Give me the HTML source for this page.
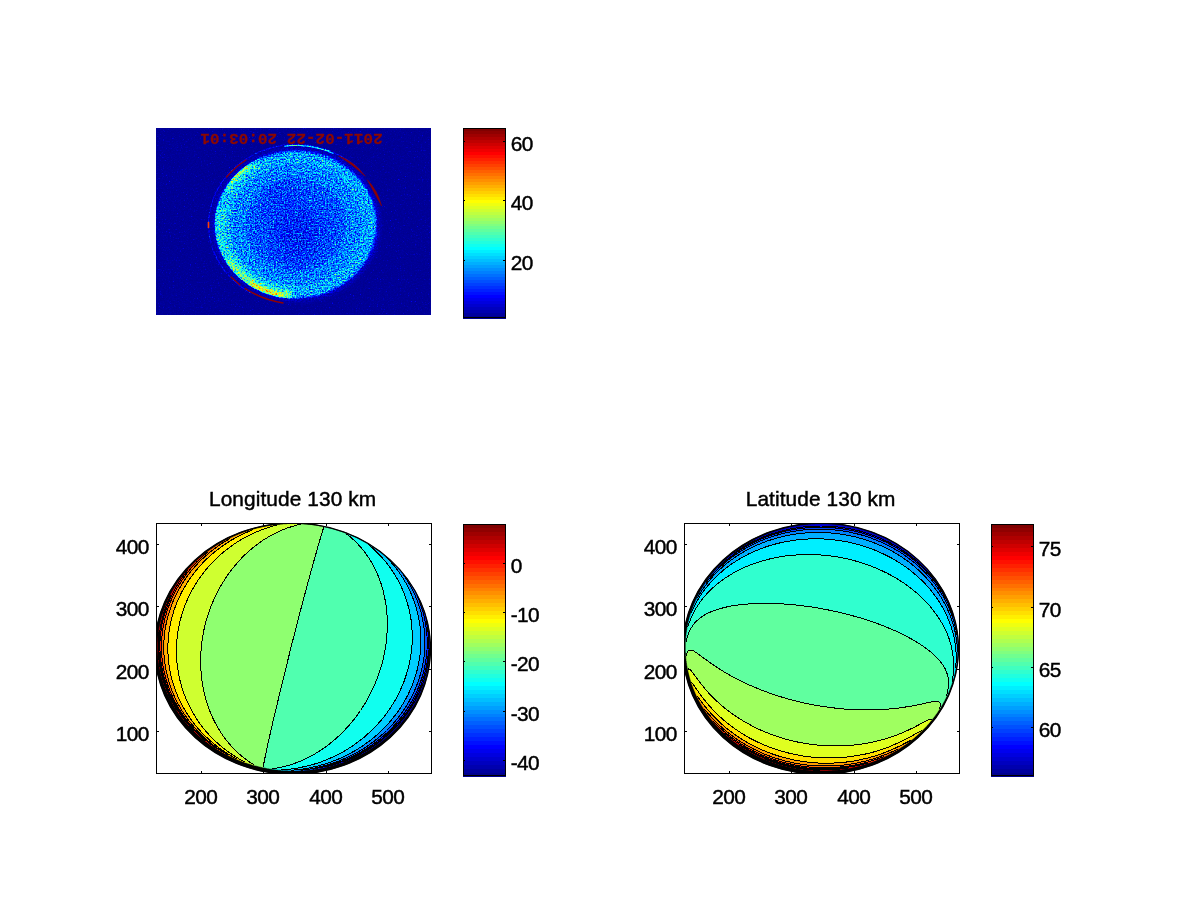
<!DOCTYPE html>
<html><head><meta charset="utf-8"><title>Figure</title>
<style>
html,body{margin:0;padding:0;background:#fff;}
body{width:1200px;height:901px;overflow:hidden;font-family:"Liberation Sans",sans-serif;}
svg{display:block;}
</style></head><body>
<svg width="1200" height="901" viewBox="0 0 1200 901">
<rect x="0" y="0" width="1200" height="901" fill="#fff"/>
<defs>
<filter id="jetnoise" filterUnits="userSpaceOnUse" x="156" y="128" width="275" height="187" color-interpolation-filters="sRGB">
 <feColorMatrix in="SourceGraphic" type="matrix" values="1 0 0 0 0  1 0 0 0 0  1 0 0 0 0  0 0 0 0 1" result="mean"/>
 <feColorMatrix in="SourceGraphic" type="matrix" values="0 1 0 0 0  0 1 0 0 0  0 1 0 0 0  0 0 0 0 1" result="amp"/>
 <feTurbulence type="fractalNoise" baseFrequency="0.63 0.66" numOctaves="2" seed="11" result="t1"/>
 <feColorMatrix in="t1" type="matrix" values="1 0 0 0 0  1 0 0 0 0  1 0 0 0 0  0 0 0 0 1" result="n1"/>
 <feComponentTransfer in="n1" result="n1s">
  <feFuncR type="table" tableValues="0 0 0 0.05 0.15 0.25 0.35 0.45 0.58 0.75 0.95"/><feFuncG type="table" tableValues="0 0 0 0.05 0.15 0.25 0.35 0.45 0.58 0.75 0.95"/><feFuncB type="table" tableValues="0 0 0 0.05 0.15 0.25 0.35 0.45 0.58 0.75 0.95"/>
 </feComponentTransfer>
 <feComposite in="amp" in2="n1s" operator="arithmetic" k1="1" k2="0" k3="0" k4="0" result="an"/>
 <feComposite in="mean" in2="an" operator="arithmetic" k1="0" k2="1" k3="1" k4="0" result="m"/>
 <feTurbulence type="fractalNoise" baseFrequency="0.71 0.68" numOctaves="2" seed="29" result="t2"/>
 <feColorMatrix in="t2" type="matrix" values="0 1 0 0 0  0 1 0 0 0  0 1 0 0 0  0 0 0 0 1" result="n2"/>
 <feComponentTransfer in="n2" result="n2s">
  <feFuncR type="table" tableValues="0 0 0 0 0 0 0.005 0.02 0.06 0.12 0.2"/><feFuncG type="table" tableValues="0 0 0 0 0 0 0.005 0.02 0.06 0.12 0.2"/><feFuncB type="table" tableValues="0 0 0 0 0 0 0.005 0.02 0.06 0.12 0.2"/>
 </feComponentTransfer>
 <feComposite in="m" in2="n2s" operator="arithmetic" k1="0" k2="1" k3="1" k4="0" result="v"/>
 <feComponentTransfer in="v">
  <feFuncR type="table" tableValues="0 0 0 0 0.5 1 1 1 0.5"/>
  <feFuncG type="table" tableValues="0 0 0.5 1 1 1 0.5 0 0"/>
  <feFuncB type="table" tableValues="0.56 1 1 1 0.5 0 0 0 0"/>
 </feComponentTransfer>
</filter>
<filter id="b1" x="-20%" y="-20%" width="140%" height="140%"><feGaussianBlur stdDeviation="1.0"/></filter>
<filter id="b2" x="-30%" y="-30%" width="160%" height="160%"><feGaussianBlur stdDeviation="2"/></filter>
<filter id="b3" x="-30%" y="-30%" width="160%" height="160%"><feGaussianBlur stdDeviation="3.5"/></filter>
<filter id="b8" x="-40%" y="-40%" width="180%" height="180%"><feGaussianBlur stdDeviation="9"/></filter>
<radialGradient id="diskg" cx="296.0" cy="224.5" r="81.0" gradientUnits="userSpaceOnUse" gradientTransform="translate(0 19.40) scale(1 0.9136)">
 <stop offset="0" stop-color="#0a9500"/><stop offset="0.45" stop-color="#0d9500"/><stop offset="0.75" stop-color="#15a600"/><stop offset="0.92" stop-color="#20ae00"/><stop offset="1" stop-color="#1cae00"/>
</radialGradient>
<clipPath id="imgclip"><rect x="156" y="128" width="275" height="187"/></clipPath>
<clipPath id="diskclip"><ellipse cx="296.0" cy="224.5" rx="81.3" ry="74.3"/></clipPath>
</defs>
<g clip-path="url(#imgclip)">
<g filter="url(#jetnoise)">
<rect x="156" y="128" width="275" height="187" fill="#000800"/>
<ellipse cx="296.0" cy="224.5" rx="84.0" ry="77.0" fill="#004000" filter="url(#b2)"/>
<path d="M252.3,293.8L241.7,287.3L232.4,279.4L224.3,270.4L217.8,260.4L212.9,249.7L209.8,238.4L208.5,226.8L209.1,215.2L211.5,203.8L215.7,192.8L221.5,182.5L229.0,173.1L237.8,164.7L247.9,157.7L259.0,152.0L270.9,147.9L283.3,145.3L296.0,144.5L308.7,145.3L321.1,147.9L333.0,152.0L344.1,157.7L354.2,164.7L363.0,173.1" fill="none" stroke="#006a00" stroke-width="1.1"/>
<ellipse cx="296.0" cy="224.5" rx="80.5" ry="73.5" fill="url(#diskg)" filter="url(#b1)"/>
<g clip-path="url(#diskclip)">
<ellipse cx="298" cy="236" rx="24" ry="28" fill="#009500" filter="url(#b8)" opacity="0.9"/>
<ellipse cx="280" cy="200" rx="14" ry="18" fill="#019500" filter="url(#b8)" opacity="0.6"/>
<path d="M293.4,293.3L285.0,292.6L276.8,291.1L268.9,288.7L261.2,285.5L254.0,281.6L247.3,277.0L241.2,271.8L235.8,265.9L231.2,259.6L227.3,252.8L224.3,245.6L222.2,238.2L221.0,230.6L220.7,223.0L221.3,215.4L222.9,207.9L225.4,200.5L228.7,193.5L232.9,186.9L237.9,180.7L243.6,175.1L249.9,170.1L256.8,165.7L264.2,162.1" fill="none" stroke="#1fbf00" stroke-width="16" filter="url(#b3)"/>
<path d="M293.3,294.8L287.6,294.4L281.9,293.6L276.2,292.4L270.7,290.9L265.4,289.0L260.2,286.7L255.2,284.1L250.4,281.1L245.9,277.9L241.7,274.3L237.7,270.4L234.1,266.3L230.9,262.0L228.0,257.4L225.5,252.7L223.4,247.8L221.7,242.7L220.4,237.6L219.5,232.4L219.1,227.2L219.1,221.9L219.5,216.6L220.4,211.4L221.7,206.3" fill="none" stroke="#2fbf00" stroke-width="9" filter="url(#b3)"/>
<path d="M289.3,294.9L286.2,294.6L283.1,294.2L280.1,293.7L277.1,293.0L274.1,292.3L271.1,291.4L268.2,290.5L265.4,289.4L262.5,288.2L259.8,286.9L257.1,285.6L254.4,284.1L251.9,282.5L249.4,280.9L246.9,279.1L244.6,277.3L242.3,275.4L240.1,273.4L238.0,271.3L236.0,269.1L234.1,266.9L232.3,264.6L230.6,262.3L229.0,259.8" fill="none" stroke="#50bf00" stroke-width="6" filter="url(#b2)"/>
<path d="M283.7,295.4L282.2,295.2L280.7,294.9L279.2,294.6L277.7,294.3L276.2,294.0L274.7,293.6L273.2,293.2L271.7,292.8L270.3,292.3L268.8,291.8L267.4,291.3L265.9,290.8L264.5,290.3L263.1,289.7L261.7,289.1L260.3,288.5L259.0,287.8L257.6,287.1L256.3,286.4L254.9,285.7L253.6,285.0L252.3,284.2L251.1,283.4L249.8,282.6" fill="none" stroke="#73d400" stroke-width="3" filter="url(#b1)"/>
<path d="M227.3,191.1L228.2,189.8L229.0,188.4L229.9,187.1L230.8,185.8L231.7,184.5L232.7,183.2L233.7,182.0L234.7,180.8L235.8,179.6L236.9,178.4L238.0,177.2L239.1,176.1L240.3,174.9L241.5,173.8L242.7,172.8L244.0,171.7L245.2,170.7L246.5,169.7L247.9,168.7L249.2,167.8L250.6,166.8L252.0,166.0L253.4,165.1L254.8,164.3" fill="none" stroke="#3bbf00" stroke-width="6" filter="url(#b2)"/>
<path d="M231.5,181.7L232.1,180.9L232.7,180.1L233.3,179.4L234.0,178.6L234.7,177.9L235.3,177.2L236.0,176.4L236.7,175.7L237.4,175.0L238.1,174.3L238.8,173.6L239.6,173.0L240.3,172.3L241.1,171.6L241.8,171.0L242.6,170.3L243.4,169.7L244.2,169.1L245.0,168.5L245.8,167.9L246.6,167.3L247.4,166.7L248.3,166.1L249.1,165.5" fill="none" stroke="#64bf00" stroke-width="2.5" filter="url(#b1)"/>
</g>
<path d="M284.1,146.3L286.2,146.0L288.3,145.8L290.4,145.7L292.5,145.6L294.6,145.5L296.7,145.5L298.9,145.5L301.0,145.6L303.1,145.8L305.2,146.0L307.3,146.2L309.4,146.5L311.5,146.8L313.5,147.2L315.6,147.6L317.6,148.1L319.7,148.6L321.7,149.2L323.7,149.8L325.7,150.4L327.7,151.1L329.6,151.9L331.6,152.7L333.5,153.5" fill="none" stroke="#3caa00" stroke-width="1.2"/>
</g>
<path d="M226.5,177 Q235,167 246,160" fill="none" stroke="#8f0000" stroke-width="1.2" stroke-linecap="round"/>
<path d="M338.5,155.8 Q354,161.3 365.3,176.2 Q351.8,164.0 338.5,155.8Z" fill="#8f0000" stroke="#8f0000" stroke-width="0.5" stroke-linejoin="round"/>
<path d="M367.3,179.8 Q377.6,190.2 381.6,206 Q374.2,192.6 367.3,179.8Z" fill="#8f0000" stroke="#8f0000" stroke-width="0.5" stroke-linejoin="round"/>
<path d="M231,277 L240,285" fill="none" stroke="#8f0000" stroke-width="1.2" stroke-linecap="round"/>
<path d="M245,288.5 Q262,299.5 283,303" fill="none" stroke="#8f0000" stroke-width="1.4" stroke-linecap="round"/>
<path d="M208.5,222.5 L208.5,227.5" fill="none" stroke="#ff4000" stroke-width="1.6" stroke-linecap="round"/>
<text transform="translate(291.5 139.4) rotate(180) scale(1 0.95)" text-anchor="middle" font-family="'Liberation Mono', monospace" font-weight="bold" font-size="16" fill="#8c0800" stroke="#8c0800" stroke-width="0.3" y="5.4">2011-02-22 20:03:01</text>
</g>
<g shape-rendering="crispEdges">
<rect x="463" y="315.03" width="43" height="3.47" fill="#00008f"/>
<rect x="463" y="312.06" width="43" height="3.47" fill="#00009f"/>
<rect x="463" y="309.09" width="43" height="3.47" fill="#0000af"/>
<rect x="463" y="306.12" width="43" height="3.47" fill="#0000bf"/>
<rect x="463" y="303.16" width="43" height="3.47" fill="#0000cf"/>
<rect x="463" y="300.19" width="43" height="3.47" fill="#0000df"/>
<rect x="463" y="297.22" width="43" height="3.47" fill="#0000ef"/>
<rect x="463" y="294.25" width="43" height="3.47" fill="#0000ff"/>
<rect x="463" y="291.28" width="43" height="3.47" fill="#0010ff"/>
<rect x="463" y="288.31" width="43" height="3.47" fill="#0020ff"/>
<rect x="463" y="285.34" width="43" height="3.47" fill="#0030ff"/>
<rect x="463" y="282.38" width="43" height="3.47" fill="#0040ff"/>
<rect x="463" y="279.41" width="43" height="3.47" fill="#0050ff"/>
<rect x="463" y="276.44" width="43" height="3.47" fill="#0060ff"/>
<rect x="463" y="273.47" width="43" height="3.47" fill="#0070ff"/>
<rect x="463" y="270.50" width="43" height="3.47" fill="#0080ff"/>
<rect x="463" y="267.53" width="43" height="3.47" fill="#008fff"/>
<rect x="463" y="264.56" width="43" height="3.47" fill="#009fff"/>
<rect x="463" y="261.59" width="43" height="3.47" fill="#00afff"/>
<rect x="463" y="258.62" width="43" height="3.47" fill="#00bfff"/>
<rect x="463" y="255.66" width="43" height="3.47" fill="#00cfff"/>
<rect x="463" y="252.69" width="43" height="3.47" fill="#00dfff"/>
<rect x="463" y="249.72" width="43" height="3.47" fill="#00efff"/>
<rect x="463" y="246.75" width="43" height="3.47" fill="#00ffff"/>
<rect x="463" y="243.78" width="43" height="3.47" fill="#10ffef"/>
<rect x="463" y="240.81" width="43" height="3.47" fill="#20ffdf"/>
<rect x="463" y="237.84" width="43" height="3.47" fill="#30ffcf"/>
<rect x="463" y="234.88" width="43" height="3.47" fill="#40ffbf"/>
<rect x="463" y="231.91" width="43" height="3.47" fill="#50ffaf"/>
<rect x="463" y="228.94" width="43" height="3.47" fill="#60ff9f"/>
<rect x="463" y="225.97" width="43" height="3.47" fill="#70ff8f"/>
<rect x="463" y="223.00" width="43" height="3.47" fill="#80ff80"/>
<rect x="463" y="220.03" width="43" height="3.47" fill="#8fff70"/>
<rect x="463" y="217.06" width="43" height="3.47" fill="#9fff60"/>
<rect x="463" y="214.09" width="43" height="3.47" fill="#afff50"/>
<rect x="463" y="211.12" width="43" height="3.47" fill="#bfff40"/>
<rect x="463" y="208.16" width="43" height="3.47" fill="#cfff30"/>
<rect x="463" y="205.19" width="43" height="3.47" fill="#dfff20"/>
<rect x="463" y="202.22" width="43" height="3.47" fill="#efff10"/>
<rect x="463" y="199.25" width="43" height="3.47" fill="#ffff00"/>
<rect x="463" y="196.28" width="43" height="3.47" fill="#ffef00"/>
<rect x="463" y="193.31" width="43" height="3.47" fill="#ffdf00"/>
<rect x="463" y="190.34" width="43" height="3.47" fill="#ffcf00"/>
<rect x="463" y="187.38" width="43" height="3.47" fill="#ffbf00"/>
<rect x="463" y="184.41" width="43" height="3.47" fill="#ffaf00"/>
<rect x="463" y="181.44" width="43" height="3.47" fill="#ff9f00"/>
<rect x="463" y="178.47" width="43" height="3.47" fill="#ff8f00"/>
<rect x="463" y="175.50" width="43" height="3.47" fill="#ff8000"/>
<rect x="463" y="172.53" width="43" height="3.47" fill="#ff7000"/>
<rect x="463" y="169.56" width="43" height="3.47" fill="#ff6000"/>
<rect x="463" y="166.59" width="43" height="3.47" fill="#ff5000"/>
<rect x="463" y="163.62" width="43" height="3.47" fill="#ff4000"/>
<rect x="463" y="160.66" width="43" height="3.47" fill="#ff3000"/>
<rect x="463" y="157.69" width="43" height="3.47" fill="#ff2000"/>
<rect x="463" y="154.72" width="43" height="3.47" fill="#ff1000"/>
<rect x="463" y="151.75" width="43" height="3.47" fill="#ff0000"/>
<rect x="463" y="148.78" width="43" height="3.47" fill="#ef0000"/>
<rect x="463" y="145.81" width="43" height="3.47" fill="#df0000"/>
<rect x="463" y="142.84" width="43" height="3.47" fill="#cf0000"/>
<rect x="463" y="139.88" width="43" height="3.47" fill="#bf0000"/>
<rect x="463" y="136.91" width="43" height="3.47" fill="#af0000"/>
<rect x="463" y="133.94" width="43" height="3.47" fill="#9f0000"/>
<rect x="463" y="130.97" width="43" height="3.47" fill="#8f0000"/>
<rect x="463" y="128.00" width="43" height="3.47" fill="#800000"/>
<rect x="463.5" y="128.5" width="42" height="189" fill="none" stroke="#000" stroke-width="1"/>
<rect x="463" y="141" width="2" height="1" fill="#000"/>
<rect x="503" y="141" width="3" height="1" fill="#000"/>
<rect x="463" y="200" width="2" height="1" fill="#000"/>
<rect x="503" y="200" width="3" height="1" fill="#000"/>
<rect x="463" y="260" width="2" height="1" fill="#000"/>
<rect x="503" y="260" width="3" height="1" fill="#000"/>
</g>
<text x="510.7" y="151.1" font-family="'Liberation Sans', sans-serif" font-size="20.83" stroke="#000" stroke-width="0.45" letter-spacing="-0.6">60</text>
<text x="510.7" y="210.1" font-family="'Liberation Sans', sans-serif" font-size="20.83" stroke="#000" stroke-width="0.45" letter-spacing="-0.6">40</text>
<text x="510.7" y="270.1" font-family="'Liberation Sans', sans-serif" font-size="20.83" stroke="#000" stroke-width="0.45" letter-spacing="-0.6">20</text>
<clipPath id="clip_lon"><rect x="157" y="524" width="274" height="249"/></clipPath>
<g clip-path="url(#clip_lon)">
<ellipse cx="292.65" cy="648.66" rx="138.16" ry="125.88" fill="#000"/>
<path d="M429.7,648.5L429.8,648.3L429.8,652.8L429.5,653.0L429.5,656.5L429.2,656.8L429.2,659.0L429.0,659.2L429.0,661.2L428.8,661.5L428.8,663.0L428.5,663.2L428.5,664.8L428.2,665.0L428.2,666.2L428.0,666.5L428.0,667.5L427.8,667.8L427.8,669.0L427.5,669.2L427.5,670.2L427.2,670.5L427.2,671.2L427.0,671.5L427.0,672.5L426.8,672.8L426.8,673.5L426.5,673.8L426.5,674.5L426.2,674.8L426.2,675.5L426.0,675.8L426.0,676.5L425.8,676.8L425.8,677.2L425.5,677.5L425.5,678.2L425.2,678.5L425.2,679.0L425.0,679.2L425.0,680.0L424.8,680.2L424.8,680.8L424.5,681.0L424.5,681.5L424.2,681.8L424.2,682.2L424.0,682.5L424.0,683.0L423.8,683.2L423.8,683.8L423.5,684.0L423.5,684.5L423.2,684.8L423.2,685.2L423.0,685.5L423.0,685.8L422.8,686.0L422.8,686.5L422.5,686.8L422.5,687.2L422.2,687.5L422.2,687.8L422.0,688.0L422.0,688.5L421.8,688.8L421.8,689.2L421.5,689.5L421.5,689.8L421.2,690.0L421.2,690.2L421.0,690.5L421.0,691.0L420.8,691.2L420.8,691.5L420.5,691.8L420.5,692.2L420.2,692.5L420.2,692.8L420.0,693.0L420.0,693.2L419.8,693.5L419.8,693.8L419.5,694.0L419.5,694.5L419.2,694.8L419.2,695.0L419.0,695.2L419.0,695.5L418.8,695.8L418.8,696.0L418.5,696.2L418.5,696.5L418.2,696.8L418.2,697.0L418.0,697.2L418.0,697.5L417.8,697.8L417.8,698.0L417.5,698.2L417.5,698.5L417.2,698.8L417.2,699.0L417.0,699.2L417.0,699.5L416.8,699.8L416.8,700.0L416.5,700.2L416.5,700.5L416.2,700.8L416.2,701.0L416.0,701.2L416.0,701.5L415.5,702.0L415.5,702.2L415.2,702.5L415.2,702.8L415.0,703.0L415.0,703.2L414.8,703.5L414.8,703.8L414.2,704.2L414.2,704.5L414.0,704.8L414.0,705.0L413.8,705.2L413.8,705.5L413.2,706.0L413.2,706.2L413.0,706.5L413.0,706.8L412.5,707.2L412.5,707.5L412.0,708.0L412.0,708.2L411.8,708.5L411.8,708.8L411.2,709.2L411.2,709.5L410.8,710.0L410.8,710.2L410.2,710.8L410.2,711.0L409.8,711.5L409.8,711.8L409.2,712.2L409.2,712.5L408.8,713.0L408.8,713.2L408.0,714.0L408.0,714.2L407.5,714.8L407.5,715.0L406.8,715.8L406.8,716.0L406.0,716.8L406.0,717.0L405.2,717.8L405.2,718.0L404.2,719.0L404.2,719.2L403.2,720.2L403.2,720.5L402.2,721.5L402.2,721.8L400.8,723.2L400.8,723.5L399.0,725.2L399.0,725.5L390.0,734.5L389.8,734.5L388.0,736.2L387.8,736.2L386.2,737.8L386.0,737.8L384.8,739.0L384.5,739.0L383.5,740.0L383.2,740.0L382.2,741.0L382.0,741.0L381.2,741.8L381.0,741.8L380.2,742.5L380.0,742.5L379.2,743.2L379.0,743.2L378.5,743.8L378.2,743.8L377.5,744.5L377.2,744.5L376.8,745.0L376.5,745.0L376.0,745.5L375.8,745.5L375.2,746.0L375.0,746.0L374.5,746.5L374.2,746.5L373.8,747.0L373.5,747.0L373.0,747.5L372.8,747.5L372.2,748.0L372.0,748.0L371.5,748.5L371.2,748.5L371.0,748.8L370.8,748.8L370.2,749.2L370.0,749.2L369.5,749.8L369.2,749.8L369.0,750.0L368.8,750.0L368.2,750.5L368.0,750.5L367.8,750.8L367.5,750.8L367.2,751.0L367.0,751.0L366.5,751.5L366.2,751.5L366.0,751.8L365.8,751.8L365.5,752.0L365.2,752.0L364.8,752.5L364.5,752.5L364.2,752.8L364.0,752.8L363.8,753.0L363.5,753.0L363.2,753.2L363.0,753.2L362.8,753.5L362.5,753.5L362.0,754.0L361.8,754.0L361.5,754.2L361.2,754.2L361.0,754.5L360.8,754.5L360.5,754.8L360.2,754.8L360.0,755.0L359.8,755.0L359.5,755.2L359.2,755.2L359.0,755.5L358.8,755.5L358.5,755.8L358.2,755.8L358.0,756.0L357.8,756.0L357.5,756.2L357.2,756.2L357.0,756.5L356.5,756.5L356.2,756.8L356.0,756.8L355.8,757.0L355.5,757.0L355.2,757.2L355.0,757.2L354.8,757.5L354.5,757.5L354.2,757.8L353.8,757.8L353.5,758.0L353.2,758.0L353.0,758.2L352.8,758.2L352.5,758.5L352.2,758.5L352.0,758.8L351.5,758.8L351.2,759.0L351.0,759.0L350.8,759.2L350.5,759.2L350.2,759.5L349.8,759.5L349.5,759.8L349.2,759.8L349.0,760.0L348.5,760.0L348.2,760.2L348.0,760.2L347.8,760.5L347.2,760.5L347.0,760.8L346.5,760.8L346.2,761.0L346.0,761.0L345.8,761.2L345.2,761.2L345.0,761.5L344.5,761.5L344.2,761.8L344.0,761.8L343.8,762.0L343.2,762.0L343.0,762.2L342.7,762.2L343.0,762.0L343.5,761.9L343.6,761.8L344.0,761.7L344.2,761.5L346.0,760.8L353.0,757.8L357.1,755.8L361.4,753.5L365.4,751.2L369.5,748.8L373.3,746.2L377.5,743.2L381.4,740.2L384.8,737.5L388.5,734.2L392.0,731.0L395.2,727.7L398.5,724.1L401.5,720.6L404.5,716.9L407.0,713.5L409.8,709.5L412.3,705.5L414.8,701.2L417.0,696.9L419.0,692.7L420.8,688.7L422.5,684.2L424.0,679.9L425.2,675.7L426.2,671.9L427.2,667.5L428.0,663.6L428.8,658.5L429.3,653.0L429.5,650.0L429.7,648.5Z" fill="#00008f" stroke="#00008f" stroke-width="0.5"/>
<path d="M426.2,619.5L426.2,619.3L426.2,619.8L426.5,620.0L426.5,620.8L426.8,621.0L426.8,621.8L427.0,622.0L427.0,623.0L427.2,623.2L427.2,624.0L427.5,624.2L427.5,625.2L427.8,625.5L427.8,626.8L428.0,627.0L428.0,628.0L428.2,628.2L428.2,629.5L428.5,629.8L428.5,631.2L428.8,631.5L428.8,633.0L429.0,633.2L429.0,635.2L429.2,635.5L429.2,637.8L429.5,638.0L429.5,641.5L429.8,641.8L429.8,648.3L429.5,650.0L429.3,653.2L428.5,660.4L427.5,666.3L426.2,671.9L424.5,678.3L422.8,683.5L420.5,689.3L418.0,694.9L415.2,700.3L412.2,705.5L408.8,711.0L405.0,716.2L401.2,720.9L397.2,725.5L393.0,730.0L388.2,734.5L383.3,738.8L378.5,742.5L373.3,746.2L367.9,749.8L362.3,753.0L356.1,756.2L350.2,759.0L344.8,761.4L344.2,761.5L344.0,761.7L343.0,762.0L342.8,762.2L342.5,762.2L342.2,762.5L341.8,762.5L341.5,762.8L341.0,762.8L340.8,763.0L340.2,763.0L340.0,763.2L339.5,763.2L339.2,763.5L338.8,763.5L338.5,763.8L338.0,763.8L337.8,764.0L337.0,764.0L336.8,764.2L336.2,764.2L336.0,764.5L335.5,764.5L335.2,764.8L334.5,764.8L334.2,765.0L333.8,765.0L333.5,765.2L332.8,765.2L332.5,765.5L331.8,765.5L331.5,765.8L330.8,765.8L330.5,766.0L329.8,766.0L329.5,766.2L328.8,766.2L328.5,766.5L327.8,766.5L327.5,766.8L326.8,766.8L326.5,767.0L326.2,767.0L326.4,766.8L327.0,766.7L327.3,766.5L328.0,766.4L333.4,764.8L340.0,762.5L345.2,760.5L351.0,758.0L356.7,755.2L362.3,752.2L367.7,749.0L373.0,745.5L378.2,741.8L382.9,738.0L387.5,734.0L391.9,729.8L396.2,725.2L400.2,720.6L404.0,715.9L407.5,711.0L410.8,706.0L414.0,700.4L416.8,695.0L419.2,689.5L421.2,684.5L423.2,678.7L425.0,672.5L426.2,667.1L427.2,661.6L428.0,655.9L428.5,649.5L428.6,643.8L428.5,637.9L428.1,632.0L427.5,627.5L426.4,620.5L426.2,620.2L426.2,619.5Z" fill="#0000cf" stroke="#0000cf" stroke-width="0.5"/>
<path d="M416.7,595.0L416.9,594.9L417.0,595.0L417.0,595.2L417.2,595.5L417.2,595.8L417.5,596.0L417.5,596.2L417.8,596.5L417.8,596.8L418.0,597.0L418.0,597.2L418.2,597.5L418.2,597.8L418.5,598.0L418.5,598.2L418.8,598.5L418.8,598.8L419.0,599.0L419.0,599.2L419.2,599.5L419.2,599.8L419.5,600.0L419.5,600.5L419.8,600.8L419.8,601.0L420.0,601.2L420.0,601.5L420.2,601.8L420.2,602.0L420.5,602.2L420.5,602.8L420.8,603.0L420.8,603.2L421.0,603.5L421.0,603.8L421.2,604.0L421.2,604.5L421.5,604.8L421.5,605.0L421.8,605.2L421.8,605.8L422.0,606.0L422.0,606.2L422.2,606.5L422.2,607.0L422.5,607.2L422.5,607.8L422.8,608.0L422.8,608.2L423.0,608.5L423.0,609.0L423.2,609.2L423.2,609.8L423.5,610.0L423.5,610.5L423.8,610.8L423.8,611.2L424.0,611.5L424.0,612.0L424.2,612.2L424.2,612.8L424.5,613.0L424.5,613.5L424.8,613.8L424.8,614.2L425.0,614.5L425.0,615.2L425.2,615.5L425.2,616.0L425.5,616.2L425.5,617.0L425.8,617.2L425.8,617.8L426.0,618.0L426.0,618.8L426.2,619.0L426.2,620.3L426.4,620.5L427.5,627.5L428.0,631.5L428.3,635.0L428.6,642.2L428.5,649.5L428.0,656.0L427.0,663.2L425.5,670.5L424.5,674.4L423.5,677.9L422.2,681.7L421.0,685.2L418.2,691.8L415.0,698.5L411.5,704.8L407.5,711.0L403.0,717.2L398.2,723.0L393.4,728.2L388.0,733.5L382.3,738.5L376.5,743.0L370.1,747.5L363.6,751.5L356.7,755.2L349.4,758.8L342.1,761.8L335.7,764.0L328.0,766.4L327.3,766.5L327.0,766.7L326.4,766.8L326.2,767.0L325.5,767.0L325.2,767.2L324.2,767.2L324.0,767.5L323.0,767.5L322.8,767.8L321.8,767.8L321.5,768.0L320.5,768.0L320.2,768.2L319.0,768.2L318.8,768.5L317.5,768.5L317.2,768.8L316.0,768.8L315.8,769.0L314.2,769.0L314.0,769.2L312.8,769.2L313.2,769.2L313.5,769.0L314.5,768.9L322.0,767.2L328.6,765.5L335.8,763.2L342.5,760.8L349.5,757.8L356.6,754.2L363.3,750.5L369.6,746.5L376.0,742.0L381.6,737.5L387.3,732.5L392.6,727.2L397.5,721.8L402.0,716.2L406.2,710.3L410.2,704.0L413.8,697.7L417.0,690.9L419.8,684.1L422.0,677.5L423.8,671.2L425.2,664.2L426.3,657.2L426.7,653.2L427.0,649.8L427.2,642.8L427.0,636.0L426.7,632.5L426.3,628.5L425.2,622.0L423.8,615.1L421.8,608.0L419.5,601.6L417.2,595.8L417.0,595.5L417.0,595.2L416.7,595.0Z" fill="#0010ff" stroke="#0010ff" stroke-width="0.5"/>
<path d="M403.5,574.5L403.5,574.3L403.5,574.5L404.5,575.5L404.5,575.8L405.2,576.5L405.2,576.8L406.0,577.5L406.0,577.8L406.8,578.5L406.8,578.8L407.5,579.5L407.5,579.8L408.2,580.5L408.2,580.8L408.8,581.2L408.8,581.5L409.2,582.0L409.2,582.2L409.8,582.8L409.8,583.0L410.2,583.5L410.2,583.8L410.8,584.2L410.8,584.5L411.2,585.0L411.2,585.2L411.8,585.8L411.8,586.0L412.0,586.2L412.0,586.5L412.5,587.0L412.5,587.2L413.0,587.8L413.0,588.0L413.2,588.2L413.2,588.5L413.8,589.0L413.8,589.2L414.0,589.5L414.0,589.8L414.2,590.0L414.2,590.2L414.8,590.8L414.8,591.0L415.0,591.2L415.0,591.5L415.2,591.8L415.2,592.0L415.8,592.5L415.8,592.8L416.0,593.0L416.0,593.2L416.2,593.5L416.2,593.8L416.5,594.0L416.5,594.2L416.8,594.5L416.8,594.8L416.9,594.9L416.7,595.0L417.0,595.2L417.0,595.5L417.2,595.8L419.0,600.3L421.0,605.8L422.2,609.7L423.5,614.1L424.5,618.3L425.5,623.4L426.2,628.5L426.8,633.5L427.0,637.5L427.2,641.8L427.1,645.8L427.0,650.0L426.7,654.0L426.2,658.2L425.5,662.8L424.8,666.8L423.7,671.2L422.8,674.9L421.5,679.1L420.2,682.7L418.8,686.7L417.2,690.3L415.5,694.1L413.5,698.1L411.5,701.8L409.5,705.2L407.2,708.8L404.8,712.5L402.5,715.5L399.8,719.1L397.0,722.4L394.0,725.8L390.9,729.0L387.8,732.0L384.5,735.0L381.3,737.8L377.9,740.5L374.3,743.2L370.8,745.8L367.4,748.0L363.7,750.2L359.9,752.5L355.7,754.8L351.7,756.8L347.9,758.5L343.8,760.2L339.3,762.0L335.0,763.5L330.3,765.0L325.0,766.5L319.8,767.8L314.5,768.9L313.5,769.0L313.2,769.2L312.2,769.2L312.0,769.5L310.0,769.5L309.8,769.8L307.5,769.8L307.2,770.0L304.5,770.0L304.2,770.2L301.2,770.2L311.0,768.7L314.9,768.0L319.4,767.0L323.4,766.0L327.8,764.8L335.4,762.2L339.4,760.8L343.6,759.0L351.2,755.5L355.0,753.5L359.1,751.2L362.8,749.0L366.3,746.8L370.0,744.2L373.7,741.5L377.2,738.8L380.2,736.2L383.3,733.5L386.5,730.5L389.5,727.5L392.2,724.6L395.0,721.5L397.8,718.1L400.2,714.9L402.8,711.4L405.0,708.1L407.2,704.5L409.2,701.1L411.2,697.4L413.0,693.9L414.8,690.1L416.2,686.5L417.8,682.6L419.0,679.0L420.2,674.9L421.2,671.2L422.2,666.9L423.0,663.2L423.7,659.0L424.2,655.0L424.5,651.2L424.8,647.2L424.9,643.0L424.8,639.0L424.7,635.0L424.3,630.8L423.9,626.8L423.2,622.7L422.5,618.8L420.8,611.5L419.5,607.2L418.2,603.5L416.8,599.4L415.2,595.8L413.8,592.5L412.0,588.9L408.5,582.5L406.0,578.5L403.5,574.8L403.5,574.5Z" fill="#0050ff" stroke="#0050ff" stroke-width="0.5"/>
<path d="M386.7,557.2L387.5,558.0L387.8,558.0L389.8,560.0L390.0,560.0L399.0,569.0L399.0,569.2L401.0,571.2L401.0,571.5L402.2,572.8L402.2,573.0L403.5,574.2L403.5,574.8L406.0,578.5L408.8,583.0L411.0,587.0L413.2,591.4L415.2,595.8L417.0,600.1L418.8,604.9L420.2,609.7L421.5,614.3L422.5,618.8L423.3,623.0L424.0,627.8L424.5,632.7L424.8,637.0L424.9,641.8L424.8,646.2L424.6,651.0L424.1,655.5L423.5,660.2L422.8,664.5L421.7,669.2L420.5,674.0L419.2,678.2L417.8,682.6L416.0,687.1L414.2,691.2L412.2,695.4L410.0,699.7L407.8,703.7L405.2,707.7L402.8,711.4L400.0,715.2L397.2,718.8L394.0,722.6L390.7,726.2L387.3,729.8L383.9,733.0L380.2,736.2L376.6,739.2L372.7,742.2L368.9,745.0L364.8,747.8L360.8,750.2L356.4,752.8L352.2,755.0L347.5,757.2L343.0,759.2L338.1,761.2L333.3,763.0L328.6,764.5L323.4,766.0L318.4,767.2L313.7,768.2L308.0,769.2L301.5,770.2L300.0,770.2L299.8,770.5L290.8,770.5L291.8,770.2L297.3,769.8L301.3,769.2L306.1,768.5L310.1,767.8L314.7,766.8L319.7,765.5L324.0,764.2L328.6,762.8L332.8,761.2L337.3,759.5L341.9,757.5L346.1,755.5L350.4,753.2L354.5,751.0L358.6,748.5L362.5,746.0L366.4,743.2L370.1,740.5L373.8,737.5L377.3,734.5L380.9,731.2L384.2,728.0L387.3,724.8L390.4,721.2L393.2,717.7L396.0,714.2L398.8,710.3L401.2,706.6L403.8,702.5L406.0,698.5L408.0,694.7L410.0,690.4L411.8,686.4L413.5,681.9L415.0,677.5L416.2,673.4L417.5,668.8L418.4,664.5L419.2,660.1L419.9,655.8L420.4,651.2L420.7,646.8L420.8,642.5L420.8,638.0L420.6,633.5L420.3,629.0L419.8,624.5L419.1,620.2L418.2,616.0L417.2,611.7L416.0,607.2L414.8,603.2L413.2,599.0L411.5,594.7L409.8,590.7L407.8,586.7L405.8,583.0L403.5,579.1L401.2,575.6L398.8,571.9L396.2,568.5L393.8,565.4L390.2,561.3L386.7,557.5L386.7,557.2Z" fill="#008fff" stroke="#008fff" stroke-width="0.5"/>
<path d="M367.5,543.7L367.8,543.8L368.0,544.0L368.2,544.0L368.8,544.5L369.0,544.5L369.2,544.8L369.5,544.8L370.0,545.2L370.2,545.2L370.5,545.5L370.8,545.5L371.2,546.0L371.5,546.0L372.0,546.5L372.2,546.5L372.8,547.0L373.0,547.0L373.2,547.2L373.5,547.2L374.0,547.8L374.2,547.8L374.8,548.2L375.0,548.2L375.5,548.8L375.8,548.8L376.5,549.5L376.8,549.5L377.2,550.0L377.5,550.0L378.0,550.5L378.2,550.5L379.0,551.2L379.2,551.2L380.0,552.0L380.2,552.0L381.0,552.8L381.2,552.8L382.0,553.5L382.2,553.5L383.2,554.5L383.5,554.5L384.5,555.5L384.8,555.5L386.0,556.8L386.2,556.8L386.7,557.2L386.7,557.5L391.2,562.4L395.2,567.2L398.5,571.6L401.5,575.9L404.2,580.4L406.8,584.8L409.0,589.2L411.2,594.1L413.2,599.0L415.0,604.0L416.5,608.9L417.8,613.7L418.8,618.4L419.6,623.5L420.2,628.6L420.6,633.5L420.8,638.5L420.8,643.5L420.6,648.8L420.1,653.8L419.5,658.5L418.6,663.8L417.5,668.6L416.2,673.4L414.8,678.3L413.0,683.2L411.0,688.2L409.0,692.6L406.8,697.1L404.2,701.6L401.5,706.2L398.8,710.3L395.8,714.5L392.5,718.7L389.2,722.5L385.6,726.5L381.9,730.2L378.2,733.8L374.1,737.2L370.1,740.5L365.7,743.8L361.4,746.8L357.0,749.5L352.3,752.2L347.6,754.8L342.4,757.2L337.9,759.2L332.8,761.2L327.9,763.0L322.3,764.8L316.8,766.2L311.3,767.5L306.1,768.5L299.4,769.5L291.8,770.2L290.8,770.5L287.8,770.5L287.5,770.2L283.2,770.2L283.0,770.0L281.1,770.0L282.0,769.8L288.5,769.3L292.8,768.8L297.7,768.0L301.7,767.2L306.2,766.2L311.1,765.0L316.2,763.5L320.7,762.0L325.3,760.2L330.2,758.2L334.5,756.3L339.0,754.0L343.6,751.5L347.8,749.0L352.1,746.2L356.0,743.5L360.0,740.5L363.8,737.5L367.5,734.2L371.3,730.8L374.8,727.2L378.3,723.5L381.8,719.5L384.8,715.8L387.7,711.8L390.5,707.7L393.2,703.4L395.8,699.1L398.0,694.9L400.2,690.3L402.2,685.8L404.0,681.5L405.5,677.2L407.0,672.5L408.3,667.8L409.5,662.8L410.4,658.0L411.1,653.2L411.7,648.5L412.1,643.8L412.2,639.0L412.2,634.2L412.0,629.5L411.6,624.8L411.1,620.0L410.3,615.2L409.3,610.5L408.2,606.1L407.0,601.7L405.5,597.2L403.8,592.5L402.0,588.4L400.0,584.1L397.8,579.8L395.5,575.8L393.0,571.8L390.2,567.8L387.5,564.1L384.6,560.5L381.5,557.0L378.4,553.8L375.1,550.5L371.3,547.0L367.7,544.0L367.5,543.7Z" fill="#00cfff" stroke="#00cfff" stroke-width="0.5"/>
<path d="M346.4,533.5L346.8,533.8L347.0,533.8L347.2,534.0L347.8,534.0L348.0,534.2L348.2,534.2L348.5,534.5L349.0,534.5L349.2,534.8L349.5,534.8L349.8,535.0L350.2,535.0L350.5,535.2L350.8,535.2L351.0,535.5L351.2,535.5L351.5,535.8L352.0,535.8L352.2,536.0L352.5,536.0L352.8,536.2L353.0,536.2L353.2,536.5L353.8,536.5L354.0,536.8L354.2,536.8L354.5,537.0L354.8,537.0L355.0,537.2L355.2,537.2L355.5,537.5L355.8,537.5L356.0,537.8L356.5,537.8L356.8,538.0L357.0,538.0L357.2,538.2L357.5,538.2L357.8,538.5L358.0,538.5L358.2,538.8L358.5,538.8L358.8,539.0L359.0,539.0L359.2,539.2L359.5,539.2L359.8,539.5L360.0,539.5L360.2,539.8L360.5,539.8L360.8,540.0L361.0,540.0L361.2,540.2L361.5,540.2L361.8,540.5L362.0,540.5L362.2,540.8L362.5,540.8L363.0,541.2L363.2,541.2L363.5,541.5L363.8,541.5L364.0,541.8L364.2,541.8L364.5,542.0L364.8,542.0L365.0,542.2L365.2,542.2L365.8,542.8L366.0,542.8L366.2,543.0L366.5,543.0L366.8,543.2L367.0,543.2L367.7,544.0L370.7,546.5L373.5,549.0L377.7,553.0L381.5,557.0L385.2,561.2L388.7,565.8L392.0,570.3L395.0,575.0L397.7,579.8L400.4,585.0L402.8,590.1L404.8,595.1L406.5,600.1L408.0,605.1L409.3,610.2L410.3,615.5L411.2,621.0L411.8,626.2L412.1,631.8L412.2,637.2L412.1,642.8L411.7,648.0L411.1,653.5L410.2,659.0L409.2,664.0L407.9,669.2L406.3,674.8L404.5,680.1L402.5,685.2L400.3,690.2L398.0,694.9L395.5,699.6L392.7,704.2L389.8,708.9L386.5,713.5L383.0,718.0L379.5,722.2L375.8,726.2L371.8,730.2L367.8,734.0L363.5,737.8L359.1,741.2L354.6,744.5L349.8,747.8L344.9,750.8L340.0,753.5L335.0,756.0L330.2,758.2L324.7,760.5L319.2,762.5L313.7,764.2L308.3,765.8L302.9,767.0L296.1,768.2L290.8,769.0L285.9,769.5L282.0,769.8L281.1,770.0L280.2,770.0L280.0,769.8L277.8,769.8L277.5,769.5L275.5,769.5L275.2,769.2L273.5,769.2L273.2,769.0L271.9,769.0L272.0,768.7L277.0,768.0L282.0,767.0L286.1,766.0L290.4,764.8L294.9,763.2L298.9,761.8L303.0,760.0L306.8,758.2L310.7,756.2L314.7,754.0L318.8,751.5L322.6,749.0L326.5,746.2L330.4,743.2L334.0,740.2L337.7,737.0L341.4,733.5L344.8,730.0L348.3,726.2L351.5,722.5L354.5,718.8L357.5,714.8L360.5,710.5L363.2,706.3L365.8,702.2L368.3,697.8L370.7,693.0L372.9,688.5L375.0,683.8L376.9,679.0L378.7,674.2L380.3,669.6L381.8,664.5L383.0,659.8L384.1,655.0L385.1,650.0L385.9,645.0L386.5,640.0L386.9,635.0L387.2,630.2L387.3,625.2L387.3,620.5L387.1,615.8L386.7,611.0L386.2,606.2L385.4,601.5L384.5,596.8L383.5,592.2L382.3,587.8L381.0,583.5L379.5,579.2L377.8,574.9L376.0,570.9L374.0,566.9L371.9,563.0L369.6,559.2L367.3,555.8L364.8,552.2L362.2,549.0L359.4,545.8L356.8,543.0L354.0,540.2L350.4,537.0L346.4,533.8L346.4,533.5Z" fill="#10ffef" stroke="#10ffef" stroke-width="0.5"/>
<path d="M323.8,527.0L324.2,527.0L324.5,527.2L325.2,527.2L325.5,527.5L326.5,527.5L326.8,527.8L327.5,527.8L327.8,528.0L328.5,528.0L328.8,528.2L329.8,528.2L330.0,528.5L330.5,528.5L330.8,528.8L331.5,528.8L331.8,529.0L332.5,529.0L332.8,529.2L333.5,529.2L333.8,529.5L334.2,529.5L334.5,529.8L335.2,529.8L335.5,530.0L336.0,530.0L336.2,530.2L337.0,530.2L337.2,530.5L337.8,530.5L338.0,530.8L338.5,530.8L338.8,531.0L339.2,531.0L339.5,531.2L340.0,531.2L340.2,531.5L340.8,531.5L341.0,531.8L341.5,531.8L341.8,532.0L342.2,532.0L342.5,532.2L343.0,532.2L343.2,532.5L343.8,532.5L344.0,532.8L344.5,532.8L344.8,533.0L345.0,533.0L345.2,533.2L345.8,533.2L346.0,533.5L346.4,533.5L346.4,533.8L351.6,538.0L356.3,542.5L360.5,547.0L364.2,551.5L368.0,556.8L371.2,561.9L374.3,567.5L377.0,573.2L379.0,578.0L380.8,583.0L382.4,588.0L383.8,593.3L384.9,598.8L385.8,604.0L386.5,609.5L387.0,615.2L387.3,620.8L387.3,626.5L387.1,632.2L386.7,638.0L386.0,643.8L385.2,649.2L384.1,655.0L382.8,660.8L381.2,666.3L379.5,671.8L377.7,677.0L375.5,682.5L373.2,687.8L370.8,693.0L368.0,698.2L365.2,703.0L362.2,707.8L359.0,712.7L355.6,717.2L352.1,721.8L348.5,726.0L344.6,730.2L340.6,734.2L336.6,738.0L332.2,741.8L327.8,745.2L323.3,748.5L318.8,751.5L314.3,754.2L309.2,757.0L304.7,759.2L299.5,761.5L293.5,763.8L287.0,765.8L283.1,766.8L279.7,767.5L275.5,768.2L272.0,768.7L271.9,769.0L271.8,769.0L271.5,768.8L270.2,768.8L270.0,768.5L268.8,768.5L268.5,768.2L267.2,768.2L267.0,768.0L266.0,768.0L265.8,767.8L264.8,767.8L264.5,767.5L263.5,767.5L263.2,767.2L263.1,767.2L264.2,761.1L266.8,749.1L270.2,733.3L278.8,697.1L288.9,656.0L299.2,615.5L309.2,578.0L317.7,547.5L321.0,536.2L323.8,527.0Z" fill="#50ffaf" stroke="#50ffaf" stroke-width="0.5"/>
<path d="M300.4,524.1L300.5,524.2L304.5,524.2L304.8,524.5L307.5,524.5L307.8,524.8L310.0,524.8L310.2,525.0L312.0,525.0L312.2,525.2L314.0,525.2L314.2,525.5L315.8,525.5L316.0,525.8L317.5,525.8L317.8,526.0L319.0,526.0L319.2,526.2L320.2,526.2L320.5,526.5L321.8,526.5L322.0,526.8L323.0,526.8L323.2,527.0L323.8,527.0L321.4,534.8L318.7,544.0L311.9,568.0L303.8,598.0L295.0,631.8L284.5,673.6L275.0,712.9L271.0,730.0L267.5,745.6L265.0,757.3L263.1,767.2L262.2,767.2L262.0,767.0L261.2,767.0L261.0,766.8L260.0,766.8L259.8,766.5L259.0,766.5L258.8,766.2L258.0,766.2L257.8,766.0L257.0,766.0L256.8,765.8L256.0,765.8L255.8,765.5L255.0,765.5L254.8,765.2L254.3,765.2L254.3,765.0L248.8,761.5L243.7,757.8L239.2,754.0L235.0,750.0L231.6,746.5L228.4,742.8L225.4,739.0L222.5,735.0L219.9,731.0L217.3,726.8L215.0,722.5L212.8,717.9L210.8,713.3L208.9,708.8L207.3,704.0L205.8,699.2L204.5,694.2L203.5,689.5L202.5,684.5L201.8,679.5L201.2,674.4L200.9,669.2L200.7,664.0L200.7,658.8L200.8,653.5L201.2,648.2L201.8,643.0L202.5,638.0L203.3,633.0L204.4,628.0L205.6,623.0L207.0,618.0L208.5,613.2L210.3,608.2L212.2,603.2L214.3,598.5L216.6,593.8L219.0,589.1L221.5,584.7L224.2,580.2L227.0,576.0L230.0,571.8L233.0,567.9L236.3,564.0L239.6,560.2L242.9,556.8L246.6,553.2L250.2,550.0L253.8,547.0L257.7,544.0L261.5,541.2L265.8,538.5L269.5,536.2L273.7,534.0L277.7,532.0L282.3,530.0L286.1,528.5L290.4,527.0L295.4,525.5L300.2,524.3L300.4,524.2L300.4,524.1Z" fill="#8fff70" stroke="#8fff70" stroke-width="0.5"/>
<path d="M287.0,524.2L287.2,524.0L300.2,524.0L300.4,524.1L300.4,524.2L300.2,524.3L294.5,525.8L289.6,527.2L284.7,529.0L279.9,531.0L275.1,533.2L270.4,535.8L265.8,538.5L261.2,541.5L257.0,544.5L252.5,548.0L248.2,551.8L244.2,555.5L240.3,559.5L236.5,563.8L232.7,568.2L229.2,572.9L226.7,576.5L224.2,580.2L221.7,584.2L219.5,588.2L217.2,592.4L215.2,596.5L213.3,600.8L211.5,605.1L209.8,609.5L208.2,614.0L206.9,618.2L205.7,622.8L204.5,627.4L203.5,632.0L202.7,636.5L202.0,641.1L201.4,645.8L201.0,650.5L200.8,655.2L200.6,660.0L200.7,664.8L200.9,669.5L201.2,674.2L201.7,678.7L202.4,683.5L203.2,688.0L204.1,692.5L205.2,697.0L206.5,701.5L207.8,705.5L209.3,709.8L211.0,713.9L212.8,718.0L214.7,722.0L216.7,725.8L218.9,729.5L221.3,733.2L223.7,736.8L226.2,740.0L228.8,743.2L231.6,746.5L234.5,749.5L237.3,752.2L240.4,755.0L243.1,757.2L246.0,759.5L250.3,762.5L254.3,765.0L254.2,765.2L254.0,765.0L253.2,765.0L253.0,764.8L252.5,764.8L252.2,764.5L251.5,764.5L251.2,764.2L250.8,764.2L250.5,764.0L250.0,764.0L249.8,763.8L249.0,763.8L248.8,763.5L248.2,763.5L248.0,763.2L247.5,763.2L247.2,763.0L246.8,763.0L246.5,762.8L246.0,762.8L245.8,762.5L245.5,762.5L245.4,762.2L238.9,758.8L234.0,755.8L229.5,752.8L224.8,749.2L220.5,745.8L216.5,742.2L212.6,738.5L209.0,734.8L205.5,730.8L202.2,726.7L199.0,722.3L196.2,718.2L193.5,713.8L191.0,709.2L188.5,704.3L186.5,699.9L184.5,695.0L182.8,690.1L181.2,685.2L180.0,680.5L178.8,675.2L177.9,670.2L177.2,665.1L176.8,659.8L176.5,654.8L176.5,649.5L176.6,644.5L177.0,639.2L177.6,634.2L178.4,629.0L179.4,624.0L180.5,619.3L182.0,614.1L183.8,608.8L185.5,604.1L187.5,599.4L189.8,594.6L192.2,589.8L194.8,585.5L197.5,581.1L200.5,576.7L203.7,572.5L207.0,568.4L210.5,564.4L214.2,560.5L218.1,556.8L222.1,553.2L226.3,549.8L230.6,546.5L235.0,543.5L239.7,540.5L244.5,537.8L249.2,535.2L255.7,532.2L261.8,529.8L268.2,527.5L272.3,526.2L276.1,525.2L276.5,525.0L277.2,525.0L277.5,524.8L279.8,524.8L280.0,524.5L282.8,524.5L283.0,524.2L287.0,524.2Z" fill="#cfff30" stroke="#cfff30" stroke-width="0.5"/>
<path d="M275.2,525.2L275.5,525.0L276.5,525.0L276.1,525.2L270.6,526.8L265.2,528.5L260.5,530.2L256.2,532.0L251.8,534.0L247.3,536.2L243.1,538.5L238.9,541.0L235.0,543.5L231.0,546.2L227.0,549.2L223.2,552.2L219.5,555.5L216.0,558.8L212.5,562.2L209.2,565.8L206.1,569.5L203.0,573.3L200.0,577.4L197.2,581.5L194.7,585.5L192.2,589.8L190.0,594.1L188.0,598.3L186.0,602.9L184.2,607.4L182.7,611.8L181.3,616.5L180.0,621.2L179.0,625.8L178.1,630.5L177.4,635.2L176.9,640.0L176.6,645.0L176.5,649.8L176.5,654.5L176.7,659.3L177.1,664.0L177.8,669.0L178.5,673.5L179.5,678.2L180.5,682.5L181.8,687.0L183.3,691.8L185.0,696.3L186.8,700.5L188.8,704.9L191.0,709.3L193.2,713.3L195.8,717.4L198.3,721.2L201.0,725.0L204.0,728.9L207.0,732.5L210.2,736.0L213.6,739.5L217.1,742.8L220.5,745.8L224.2,748.8L227.8,751.5L231.0,753.8L234.8,756.2L240.2,759.5L245.4,762.2L245.5,762.5L245.2,762.5L245.0,762.2L244.5,762.2L244.2,762.0L244.0,762.0L243.8,761.8L243.2,761.8L243.0,761.5L242.5,761.5L242.2,761.2L241.8,761.2L241.5,761.0L241.2,761.0L241.0,760.8L240.5,760.8L240.2,760.5L240.0,760.5L239.8,760.2L239.2,760.2L239.0,760.0L238.5,760.0L238.2,759.8L238.0,759.8L237.8,759.5L237.5,759.5L237.2,759.2L236.8,759.2L236.3,758.8L232.7,756.8L229.3,754.8L224.6,751.8L220.3,748.8L216.0,745.5L211.4,741.8L207.5,738.2L203.9,734.8L200.4,731.0L197.0,727.2L193.5,722.8L190.5,718.8L187.8,714.7L185.0,710.3L182.5,705.9L180.2,701.5L178.3,697.2L176.2,692.5L174.5,687.7L173.0,683.1L171.7,678.5L170.5,673.4L169.5,668.1L168.8,663.2L168.3,658.3L168.0,653.5L167.9,648.5L168.0,643.5L168.3,638.8L168.8,633.5L169.5,628.7L170.5,623.4L171.7,618.2L173.0,613.6L174.5,609.0L176.2,604.2L178.2,599.4L180.5,594.6L183.0,589.8L185.5,585.5L188.0,581.5L191.0,577.1L194.0,573.1L197.2,569.1L200.6,565.2L204.1,561.5L208.0,557.8L211.9,554.2L216.1,550.8L220.4,547.5L225.0,544.2L229.3,541.5L233.9,538.8L239.0,536.0L245.2,533.0L252.4,530.0L252.7,529.8L253.0,529.8L253.2,529.5L253.8,529.5L254.0,529.2L254.8,529.2L255.0,529.0L255.8,529.0L256.0,528.8L256.8,528.8L257.0,528.5L257.8,528.5L258.0,528.2L258.8,528.2L259.0,528.0L259.8,528.0L260.0,527.8L260.8,527.8L261.0,527.5L262.0,527.5L262.2,527.2L263.0,527.2L263.2,527.0L264.2,527.0L264.5,526.8L265.5,526.8L265.8,526.5L267.0,526.5L267.2,526.2L268.5,526.2L268.8,526.0L270.0,526.0L270.2,525.8L271.5,525.8L271.8,525.5L273.2,525.5L273.5,525.2L275.2,525.2Z" fill="#ffef00" stroke="#ffef00" stroke-width="0.5"/>
<path d="M252.0,530.0L252.2,529.8L252.7,529.8L252.4,530.0L247.5,532.0L242.6,534.2L238.5,536.2L234.3,538.5L230.5,540.8L226.5,543.2L222.8,545.8L219.0,548.5L215.5,551.2L211.9,554.2L208.5,557.2L205.1,560.5L202.0,563.8L199.0,567.0L196.2,570.3L193.2,574.1L190.5,577.8L188.0,581.5L185.5,585.5L183.2,589.4L181.2,593.1L179.3,597.2L177.5,601.2L175.8,605.5L174.2,609.7L173.0,613.6L171.8,618.1L170.7,622.2L169.8,627.0L169.1,631.2L168.5,636.0L168.1,640.2L167.9,644.5L167.9,649.0L168.0,653.5L168.3,658.0L168.7,662.5L169.2,666.5L170.0,670.9L171.0,675.6L172.0,679.6L173.2,683.9L174.8,688.4L176.2,692.5L178.0,696.7L180.0,701.0L182.0,705.0L184.2,709.0L186.5,712.8L189.0,716.6L191.8,720.5L194.2,723.8L197.2,727.4L200.1,730.8L203.2,734.0L206.5,737.2L210.0,740.5L213.2,743.2L216.6,746.0L220.3,748.8L223.8,751.2L227.3,753.5L231.8,756.2L236.3,758.8L236.6,759.0L236.6,759.1L236.2,759.0L236.0,758.8L235.5,758.8L235.2,758.5L235.0,758.5L234.8,758.2L234.5,758.2L234.2,758.0L234.0,758.0L233.8,757.8L233.2,757.8L233.0,757.5L232.8,757.5L232.5,757.2L232.2,757.2L232.0,757.0L231.8,757.0L231.5,756.8L231.2,756.8L231.0,756.5L230.8,756.5L230.5,756.2L230.0,756.2L229.8,756.0L229.5,756.0L229.2,755.8L229.0,755.8L228.8,755.5L228.5,755.5L228.2,755.2L228.0,755.2L227.8,755.0L227.5,755.0L227.1,754.5L220.8,750.5L215.4,746.8L210.3,742.8L205.6,738.8L202.1,735.5L198.6,732.0L195.4,728.5L192.2,724.9L189.2,721.1L186.5,717.4L183.8,713.4L181.2,709.4L179.0,705.5L176.8,701.3L174.8,697.2L173.0,693.2L171.2,688.7L169.8,684.4L168.5,680.4L167.2,675.8L166.2,671.4L165.5,667.2L164.8,662.4L164.2,657.8L163.9,653.2L163.8,648.8L163.8,644.2L164.0,639.5L164.5,634.8L165.0,630.5L165.8,625.9L166.8,621.1L168.0,616.1L169.2,611.8L170.8,607.4L172.2,603.4L174.0,599.2L176.0,594.9L178.2,590.5L180.5,586.5L183.0,582.5L185.5,578.7L188.0,575.2L191.0,571.3L194.2,567.5L197.6,563.8L201.0,560.2L204.7,556.8L208.4,553.5L212.1,550.5L216.0,547.5L220.3,544.5L224.5,541.8L229.1,539.0L229.2,538.8L229.5,538.8L229.4,538.6L229.5,538.5L229.8,538.5L230.0,538.2L230.2,538.2L230.5,538.0L231.0,538.0L231.2,537.8L231.5,537.8L231.8,537.5L232.0,537.5L232.2,537.2L232.5,537.2L232.8,537.0L233.0,537.0L233.2,536.8L233.5,536.8L233.8,536.5L234.2,536.5L234.5,536.2L234.8,536.2L235.0,536.0L235.2,536.0L235.5,535.8L236.0,535.8L236.2,535.5L236.5,535.5L236.8,535.2L237.0,535.2L237.2,535.0L237.8,535.0L238.0,534.8L238.2,534.8L238.5,534.5L239.0,534.5L239.2,534.2L239.5,534.2L239.8,534.0L240.2,534.0L240.5,533.8L241.0,533.8L241.2,533.5L241.5,533.5L241.8,533.2L242.2,533.2L242.5,533.0L243.0,533.0L243.2,532.8L243.5,532.8L243.8,532.5L244.2,532.5L244.5,532.2L245.0,532.2L245.2,532.0L245.8,532.0L246.0,531.8L246.5,531.8L246.8,531.5L247.2,531.5L247.5,531.2L248.0,531.2L248.2,531.0L248.8,531.0L249.0,530.8L249.5,530.8L249.8,530.5L250.5,530.5L250.8,530.2L251.2,530.2L251.5,530.0L252.0,530.0Z" fill="#ffaf00" stroke="#ffaf00" stroke-width="0.5"/>
<path d="M229.2,538.8L229.4,538.6L229.5,538.8L229.2,538.8L229.1,539.0L221.8,543.5L217.7,546.2L214.3,548.8L208.1,553.8L205.0,556.5L202.0,559.2L199.0,562.2L196.2,565.2L193.8,568.0L191.0,571.3L188.5,574.6L186.0,578.0L183.8,581.3L181.5,584.9L179.5,588.3L177.5,591.9L175.8,595.4L174.0,599.2L172.5,602.8L171.0,606.7L169.8,610.3L168.5,614.3L167.5,618.0L166.5,622.2L165.7,626.0L165.0,630.5L164.5,634.4L164.1,638.2L163.9,642.2L163.8,646.2L163.8,650.2L164.0,654.5L164.3,658.2L164.8,662.4L165.3,666.0L166.0,670.1L166.8,673.6L167.8,677.7L168.8,681.2L170.0,685.2L171.5,689.4L173.0,693.2L174.5,696.6L176.2,700.3L178.2,704.2L180.2,707.7L182.2,711.0L184.5,714.5L186.8,717.8L189.2,721.1L191.8,724.3L194.5,727.5L197.2,730.5L200.1,733.5L202.9,736.2L205.9,739.0L208.8,741.5L212.2,744.2L215.8,747.0L219.3,749.5L222.7,751.8L227.1,754.5L227.2,754.8L227.0,754.8L226.8,754.5L226.5,754.5L226.2,754.2L226.0,754.2L225.5,753.8L225.2,753.8L225.0,753.5L224.8,753.5L224.5,753.2L224.2,753.2L224.0,753.0L223.8,753.0L223.5,752.8L223.2,752.8L223.0,752.5L222.8,752.5L222.2,752.0L222.0,752.0L221.8,751.8L221.5,751.8L221.2,751.5L221.0,751.5L220.5,751.0L220.2,751.0L220.0,750.8L219.8,750.8L219.2,750.2L219.0,750.2L218.8,750.0L218.5,750.0L218.0,749.5L217.8,749.5L217.5,749.2L217.2,749.2L217.3,749.0L217.0,748.9L216.6,748.5L211.8,745.0L206.8,741.0L203.0,737.8L199.8,734.8L196.5,731.5L193.5,728.3L190.8,725.1L188.0,721.8L185.5,718.5L183.0,715.0L180.5,711.3L178.5,708.0L176.5,704.5L174.5,700.8L172.8,697.2L171.0,693.3L169.5,689.6L168.0,685.5L166.8,681.7L165.5,677.4L164.5,673.4L163.8,670.0L163.0,665.9L162.4,661.5L162.0,657.8L161.6,653.5L161.5,649.5L161.5,645.5L161.6,641.5L161.8,637.5L162.2,633.1L162.8,629.4L163.5,625.0L164.2,621.4L165.2,617.2L166.5,612.8L167.8,608.9L169.2,604.7L170.8,601.0L172.2,597.6L174.0,593.9L176.0,590.1L178.0,586.5L180.2,582.8L183.0,578.7L186.0,574.5L189.0,570.7L192.5,566.6L195.8,563.1L199.0,559.8L202.8,556.2L206.8,552.8L208.2,551.2L208.5,551.2L209.0,550.8L209.2,550.8L210.0,550.0L210.2,550.0L210.8,549.5L211.0,549.5L211.5,549.0L211.8,549.0L212.2,548.5L212.5,548.5L213.0,548.0L213.2,548.0L213.8,547.5L214.0,547.5L214.5,547.0L214.8,547.0L215.2,546.5L215.5,546.5L216.0,546.0L216.2,546.0L216.5,545.8L216.8,545.8L217.2,545.2L217.5,545.2L218.0,544.8L218.2,544.8L218.5,544.5L218.8,544.5L219.2,544.0L219.5,544.0L219.8,543.8L220.0,543.8L220.2,543.5L220.5,543.5L221.0,543.0L221.2,543.0L221.5,542.8L221.8,542.8L222.0,542.5L222.2,542.5L222.8,542.0L223.0,542.0L223.2,541.8L223.5,541.8L223.8,541.5L224.0,541.5L224.2,541.2L224.5,541.2L224.8,541.0L225.0,541.0L225.5,540.5L225.8,540.5L226.0,540.2L226.2,540.2L226.5,540.0L226.8,540.0L227.0,539.8L227.2,539.8L227.5,539.5L227.8,539.5L228.0,539.2L228.2,539.2L228.5,539.0L228.8,539.0L229.0,538.8L229.2,538.8Z" fill="#ff7000" stroke="#ff7000" stroke-width="0.5"/>
<path d="M207.0,552.2L207.2,552.0L207.5,552.0L206.8,552.8L203.3,555.8L200.3,558.5L195.5,563.3L191.0,568.3L186.5,573.9L182.2,579.8L178.5,585.7L175.0,592.0L172.0,598.1L169.2,604.7L167.0,611.2L165.0,618.2L163.5,625.0L162.4,631.8L161.7,638.8L161.4,645.8L161.6,652.8L161.8,656.5L162.2,660.5L163.2,667.3L164.8,674.5L166.5,680.9L168.8,687.6L171.2,693.9L174.2,700.3L177.8,706.7L181.5,712.8L185.5,718.5L190.0,724.2L194.6,729.5L199.5,734.5L204.7,739.2L210.5,744.0L216.6,748.5L217.0,748.9L217.3,749.0L217.2,749.2L216.8,748.8L216.5,748.8L216.2,748.5L216.0,748.5L215.5,748.0L215.2,748.0L214.8,747.5L214.5,747.5L214.0,747.0L213.8,747.0L213.2,746.5L213.0,746.5L212.5,746.0L212.2,746.0L211.8,745.5L211.5,745.5L211.0,745.0L210.8,745.0L210.2,744.5L210.0,744.5L209.2,743.8L209.0,743.8L208.2,743.0L208.0,743.0L207.5,742.5L207.2,742.5L205.8,741.0L202.3,738.0L199.3,735.3L194.7,730.8L189.8,725.3L185.2,719.7L180.8,713.5L176.8,707.2L173.2,700.9L170.0,694.1L167.2,687.3L165.0,680.6L163.2,674.2L161.8,667.0L160.7,660.2L160.3,656.2L160.1,652.5L159.9,645.2L160.2,637.9L161.0,630.8L162.2,623.4L163.0,620.0L164.0,616.0L166.0,609.4L168.5,602.6L171.2,596.3L174.5,589.9L178.2,583.5L182.2,577.5L187.5,570.5L187.3,570.4L188.8,569.0L188.8,568.8L197.2,560.2L197.5,560.2L199.5,558.2L199.8,558.2L201.2,556.8L201.5,556.8L202.8,555.5L203.0,555.5L204.0,554.5L204.2,554.5L205.0,553.8L205.2,553.8L206.2,552.8L206.5,552.8L207.0,552.2Z" fill="#ff3000" stroke="#ff3000" stroke-width="0.5"/>
<path d="M187.2,570.5L187.3,570.4L187.5,570.5L182.8,576.8L179.2,581.9L176.2,586.8L173.5,591.8L170.8,597.4L168.5,602.6L166.5,607.9L164.8,613.4L163.2,618.9L162.0,624.7L161.0,630.8L160.4,636.2L160.0,642.2L159.9,648.0L160.2,654.0L160.7,659.8L161.5,665.6L162.8,672.0L164.0,677.1L165.8,682.9L167.8,688.6L170.0,694.1L172.5,699.4L175.2,704.6L178.0,709.3L181.2,714.2L185.0,719.4L188.8,724.1L192.8,728.6L196.7,732.8L200.6,736.5L205.2,740.6L205.8,741.0L206.4,741.6L206.2,741.5L206.0,741.5L205.2,740.8L205.0,740.8L204.0,739.8L203.8,739.8L202.8,738.8L202.5,738.8L201.5,737.8L201.2,737.8L199.8,736.2L199.5,736.2L197.5,734.2L197.2,734.2L193.7,730.7L193.0,729.8L188.8,725.0L185.0,720.5L181.2,715.5L177.8,710.3L174.5,704.9L171.5,699.2L169.0,693.9L166.8,688.5L164.8,682.9L163.0,677.0L161.5,670.9L160.5,665.7L159.6,659.0L159.1,652.8L158.9,646.8L159.0,640.8L159.5,634.5L160.2,628.6L161.3,623.0L162.5,617.6L164.2,611.4L166.5,604.9L168.7,599.5L169.8,596.8L170.0,596.5L170.1,596.2L170.3,596.0L170.3,595.8L170.5,595.5L170.3,595.4L170.5,595.2L170.5,595.0L170.8,594.8L170.8,594.5L171.0,594.2L171.0,594.0L171.2,593.8L171.2,593.5L171.5,593.2L171.5,593.0L172.0,592.5L172.0,592.2L172.2,592.0L172.2,591.8L172.5,591.5L172.5,591.2L172.8,591.0L172.8,590.8L173.2,590.2L173.2,590.0L173.5,589.8L173.5,589.5L174.0,589.0L174.0,588.8L174.2,588.5L174.2,588.2L174.8,587.8L174.8,587.5L175.0,587.2L175.0,587.0L175.5,586.5L175.5,586.2L175.8,586.0L175.8,585.8L176.2,585.2L176.2,585.0L176.8,584.5L176.8,584.2L177.2,583.8L177.2,583.5L177.8,583.0L177.8,582.8L178.2,582.2L178.2,582.0L178.8,581.5L178.8,581.2L179.5,580.5L179.5,580.2L180.0,579.8L180.0,579.5L180.8,578.8L180.8,578.5L181.5,577.8L181.5,577.5L182.2,576.8L182.2,576.5L183.2,575.5L183.2,575.2L184.2,574.2L184.2,574.0L185.2,573.0L185.2,572.8L186.8,571.2L186.8,571.0L187.2,570.5Z" fill="#ef0000" stroke="#ef0000" stroke-width="0.5"/>
<path d="M170.2,595.5L170.3,595.4L170.5,595.5L170.3,595.8L170.3,596.0L170.1,596.2L170.0,596.5L169.8,596.8L168.7,599.5L166.2,605.6L165.0,609.1L163.8,613.0L162.5,617.6L161.5,621.8L160.8,625.6L160.0,630.3L159.5,634.4L159.1,639.2L158.9,643.5L158.9,648.0L159.0,652.2L159.4,656.8L159.8,660.8L160.5,665.7L161.5,670.9L162.5,675.1L163.8,679.7L165.0,683.6L166.5,687.8L168.2,692.2L170.0,696.1L172.0,700.2L174.0,704.0L176.5,708.3L178.8,711.8L181.2,715.5L184.0,719.2L186.5,722.4L190.5,727.0L193.0,729.8L193.7,730.7L188.8,725.8L188.8,725.5L187.0,723.8L187.0,723.5L185.5,722.0L185.5,721.8L184.2,720.5L184.2,720.2L183.2,719.2L183.2,719.0L182.2,718.0L182.2,717.8L181.5,717.0L181.5,716.8L180.8,716.0L180.8,715.8L180.2,715.2L180.2,715.0L179.5,714.2L179.5,714.0L179.0,713.5L179.0,713.2L178.2,712.5L178.2,712.2L177.8,711.8L177.8,711.5L177.2,711.0L177.3,710.5L176.8,710.0L176.8,709.8L176.4,709.2L176.3,709.0L174.9,706.8L171.7,701.0L169.5,696.5L167.5,692.1L165.8,687.7L164.2,683.5L163.0,679.6L161.8,675.1L160.8,670.8L159.8,665.7L159.1,661.0L158.6,657.2L158.3,652.8L158.1,648.8L158.2,641.5L158.6,634.5L158.8,634.0L158.8,631.8L159.0,631.5L159.0,630.0L159.2,629.8L159.2,628.5L159.5,628.2L159.5,627.0L159.8,626.8L159.8,625.8L160.0,625.5L160.0,624.5L160.2,624.2L160.2,623.2L160.5,623.0L160.5,622.2L160.8,622.0L160.8,621.2L161.0,621.0L161.0,620.0L161.2,619.8L161.2,619.2L161.5,619.0L161.5,618.2L161.8,618.0L161.8,617.2L162.0,617.0L162.0,616.5L162.2,616.2L162.2,615.5L162.5,615.2L162.5,614.8L162.8,614.5L162.8,613.8L163.0,613.5L163.0,613.0L163.2,612.8L163.2,612.2L163.5,612.0L163.5,611.5L163.8,611.2L163.8,610.8L164.0,610.5L164.0,610.0L164.2,609.8L164.2,609.5L164.5,609.2L164.5,608.8L164.8,608.5L164.8,608.0L165.0,607.8L165.0,607.2L165.2,607.0L165.2,606.8L165.5,606.5L165.5,606.0L165.8,605.8L165.8,605.5L166.0,605.2L166.0,604.8L166.2,604.5L166.2,604.2L166.5,604.0L166.5,603.5L166.8,603.2L166.8,603.0L167.0,602.8L167.0,602.5L167.2,602.2L167.2,601.8L167.5,601.5L167.5,601.2L167.8,601.0L167.8,600.8L168.0,600.5L168.0,600.2L168.2,600.0L168.2,599.5L168.5,599.2L168.5,599.0L168.8,598.8L168.8,598.5L169.0,598.2L169.0,598.0L169.2,597.8L169.2,597.5L169.5,597.2L169.5,597.0L169.8,596.8L169.8,596.5L170.0,596.2L170.0,596.0L170.2,595.8L170.2,595.5Z" fill="#af0000" stroke="#af0000" stroke-width="0.5"/>
<path d="M158.8,632.5L158.8,632.4L158.8,634.0L158.6,634.8L158.2,642.2L158.1,648.0L158.3,653.2L158.8,658.4L159.3,662.5L160.2,668.4L161.2,673.0L162.5,677.9L164.0,682.8L165.8,687.7L167.5,692.1L169.5,696.5L171.5,700.5L174.9,706.8L176.3,709.0L176.4,709.2L176.8,709.8L176.8,710.0L177.3,710.5L177.2,710.9L177.2,710.8L176.8,710.2L176.8,710.0L176.2,709.5L176.2,709.2L176.0,709.0L176.0,708.8L175.5,708.2L175.5,708.0L175.0,707.5L175.0,707.2L174.8,707.0L174.8,706.8L174.2,706.2L174.2,706.0L174.0,705.8L174.0,705.5L173.5,705.0L173.5,704.8L173.2,704.5L173.2,704.2L173.0,704.0L173.0,703.8L172.5,703.2L172.5,703.0L172.2,702.8L172.2,702.5L172.0,702.2L172.0,702.0L171.8,701.8L171.8,701.5L171.2,701.0L171.2,700.8L171.0,700.5L171.0,700.2L170.8,700.0L170.8,699.8L170.5,699.5L170.5,699.2L170.2,699.0L170.2,698.8L170.0,698.5L170.0,698.2L169.8,698.0L169.8,697.8L169.5,697.5L169.5,697.2L169.2,697.0L169.2,696.8L169.0,696.5L169.0,696.2L168.8,696.0L168.8,695.8L168.5,695.5L168.5,695.2L168.2,695.0L168.2,694.5L168.0,694.2L168.0,694.0L167.8,693.8L167.8,693.5L167.5,693.2L167.5,693.0L167.2,692.8L167.2,692.2L167.0,692.0L167.0,691.8L166.8,691.5L166.8,691.2L166.5,691.0L166.5,690.5L166.2,690.2L166.2,690.0L166.0,689.8L166.0,689.2L165.8,689.0L165.8,688.8L165.5,688.5L165.5,688.0L165.2,687.8L165.2,687.5L165.0,687.2L165.0,686.8L164.8,686.5L164.8,686.0L164.5,685.8L164.5,685.2L164.2,685.0L164.2,684.8L164.0,684.5L164.0,684.0L163.8,683.8L163.8,683.2L163.5,683.0L163.5,682.5L163.2,682.2L163.2,681.8L163.0,681.5L163.0,680.8L162.8,680.5L162.8,680.0L162.5,679.8L162.5,679.2L162.2,679.0L162.2,678.2L162.0,678.0L162.0,677.5L161.8,677.2L161.8,676.5L161.5,676.2L161.5,675.5L161.2,675.2L161.2,674.5L161.0,674.2L161.0,673.5L160.8,673.2L160.8,672.5L160.5,672.2L160.5,671.5L160.2,671.2L160.2,670.2L160.0,670.0L160.0,669.0L159.8,668.8L159.8,667.8L159.5,667.5L159.5,666.2L159.2,666.0L159.2,664.8L159.0,664.5L159.0,663.0L158.8,662.8L158.8,661.2L158.5,661.0L158.5,659.0L158.2,658.8L158.2,656.2L158.0,656.0L158.0,652.5L157.8,652.2L157.8,642.2L158.0,642.0L158.0,638.2L158.2,638.0L158.2,635.8L158.5,635.5L158.5,633.5L158.8,633.2L158.8,632.5Z" fill="#800000" stroke="#800000" stroke-width="0.5"/>
<path d="M429.8,648.3L429.5,650.0L429.3,653.0L428.8,658.5L428.0,663.6L427.2,667.5L426.2,671.9L425.2,675.7L424.0,679.9L422.5,684.2L420.8,688.7L419.0,692.7L417.0,696.9L415.0,700.7L412.8,704.7L410.2,708.7L407.5,712.8L404.8,716.5L402.0,720.0L398.8,723.9L395.5,727.4L392.2,730.8L388.5,734.2L385.1,737.2L381.4,740.2L377.5,743.2L373.3,746.2L369.5,748.8L365.4,751.2L361.4,753.5L357.1,755.8L353.0,757.8L346.0,760.8L344.2,761.5L344.0,761.7L343.6,761.8L343.5,761.9L343.0,762.0L342.7,762.2M426.2,619.3L426.2,620.3L426.4,620.5L427.2,625.8L428.1,632.2L428.5,637.9L428.6,643.8L428.5,649.5L428.0,655.9L427.2,661.6L426.2,667.1L425.0,672.5L423.2,678.7L421.2,684.5L419.2,689.5L416.8,695.0L414.0,700.4L411.0,705.6L407.8,710.6L404.2,715.6L400.5,720.3L396.2,725.2L392.2,729.5L387.8,733.8L383.2,737.8L378.2,741.8L373.0,745.5L367.7,749.0L362.3,752.2L356.7,755.2L351.0,758.0L345.2,760.5L340.0,762.5L333.4,764.8L328.0,766.4L327.3,766.5L327.0,766.7L326.4,766.8L326.2,767.0M416.9,594.9L416.7,595.0L417.0,595.2L417.0,595.5L417.2,595.8L419.8,602.3L422.0,608.8L423.8,615.1L425.2,622.0L426.3,628.8L426.7,632.8L427.0,636.2L427.2,643.2L427.0,650.2L426.3,657.5L425.2,664.2L423.7,671.2L421.8,678.3L419.5,684.8L416.8,691.4L413.5,698.1L410.0,704.4L406.0,710.6L401.8,716.5L397.2,722.1L392.2,727.6L387.0,732.8L381.3,737.8L375.3,742.5L369.3,746.8L362.9,750.8L356.2,754.5L349.5,757.8L342.5,760.8L335.8,763.2L328.6,765.5L322.0,767.2L314.5,768.9L313.5,769.0L313.2,769.2L312.8,769.2M403.5,574.3L403.5,574.8L406.0,578.5L408.0,581.7L410.2,585.6L412.2,589.4L414.0,593.0L415.5,596.4L417.0,600.1L418.2,603.5L419.5,607.2L420.8,611.5L422.5,618.8L423.2,622.7L423.9,626.8L424.3,630.8L424.7,635.0L424.8,639.0L424.9,643.0L424.8,647.2L424.5,651.2L424.2,655.0L423.7,659.0L423.0,663.2L422.2,666.9L421.2,671.2L420.2,674.9L419.0,679.0L417.8,682.6L416.2,686.5L414.8,690.1L413.0,693.9L411.2,697.4L409.2,701.1L407.2,704.5L405.0,708.1L402.8,711.4L400.2,714.9L397.8,718.1L395.0,721.5L392.2,724.6L389.5,727.5L386.5,730.5L383.3,733.5L380.2,736.2L377.2,738.8L373.7,741.5L370.0,744.2L366.3,746.8L362.8,749.0L359.1,751.2L355.0,753.5L351.2,755.5L343.6,759.0L339.4,760.8L335.4,762.2L327.8,764.8L323.4,766.0L319.4,767.0L314.9,768.0L311.0,768.8L301.2,770.2M386.7,557.2L386.7,557.5L390.2,561.3L393.8,565.4L396.2,568.5L398.8,571.9L401.2,575.6L403.5,579.1L405.8,583.0L407.8,586.7L409.8,590.7L411.5,594.7L413.2,599.0L414.8,603.2L416.0,607.2L417.2,611.7L418.2,616.0L419.1,620.2L419.8,624.5L420.3,629.0L420.6,633.5L420.8,638.0L420.8,642.5L420.7,646.8L420.4,651.2L419.9,655.8L419.2,660.1L418.4,664.5L417.5,668.8L416.2,673.4L415.0,677.5L413.5,681.9L411.8,686.4L410.0,690.4L408.0,694.7L406.0,698.5L403.8,702.5L401.2,706.6L398.8,710.3L396.0,714.2L393.2,717.7L390.4,721.2L387.3,724.8L384.2,728.0L380.9,731.2L377.3,734.5L373.8,737.5L370.1,740.5L366.4,743.2L362.5,746.0L358.6,748.5L354.5,751.0L350.4,753.2L346.1,755.5L341.9,757.5L337.3,759.5L332.8,761.2L328.6,762.8L324.0,764.2L319.7,765.5L314.7,766.7L310.1,767.8L306.1,768.5L301.3,769.2L297.3,769.8L291.8,770.2L290.8,770.5M367.5,543.7L367.7,544.0L371.3,547.0L375.1,550.5L378.4,553.8L381.5,557.0L384.6,560.5L387.5,564.1L390.2,567.8L393.0,571.8L395.5,575.8L397.7,579.8L400.0,584.1L402.0,588.4L403.8,592.5L405.5,597.2L407.0,601.7L408.2,606.1L409.3,610.5L410.3,615.2L411.1,620.0L411.6,624.8L412.0,629.5L412.2,634.2L412.2,639.0L412.1,643.8L411.7,648.5L411.1,653.2L410.4,658.0L409.5,662.8L408.3,667.8L407.0,672.5L405.5,677.2L404.0,681.5L402.2,685.8L400.2,690.3L398.0,694.9L395.8,699.1L393.2,703.4L390.5,707.7L387.7,711.8L384.8,715.8L381.8,719.5L378.3,723.5L374.8,727.2L371.3,730.8L367.5,734.2L363.8,737.5L360.0,740.5L356.0,743.5L352.1,746.2L347.8,749.0L343.6,751.5L339.0,754.0L334.5,756.2L330.2,758.2L325.3,760.2L320.7,762.0L316.2,763.5L311.1,765.0L306.2,766.2L301.7,767.2L297.7,768.0L292.8,768.8L288.5,769.3L282.0,769.8L281.1,770.0M346.4,533.5L346.4,533.8L350.4,537.0L354.0,540.2L356.8,543.0L359.4,545.8L362.2,549.0L364.8,552.2L367.3,555.8L369.6,559.2L371.9,563.0L374.0,566.9L376.0,570.9L377.8,574.9L379.5,579.2L381.0,583.5L382.3,587.8L383.5,592.2L384.5,596.8L385.4,601.5L386.2,606.2L386.7,611.0L387.1,615.8L387.3,620.5L387.3,625.2L387.2,630.2L386.9,635.0L386.5,640.0L385.9,645.0L385.1,650.0L384.1,655.0L383.0,659.8L381.8,664.5L380.2,669.6L378.7,674.2L376.9,679.0L375.0,683.8L372.9,688.5L370.7,693.0L368.3,697.8L365.8,702.2L363.2,706.3L360.5,710.5L357.5,714.8L354.5,718.8L351.5,722.5L348.3,726.2L344.8,730.0L341.4,733.5L337.7,737.0L334.0,740.2L330.4,743.2L326.5,746.3L322.6,749.0L318.8,751.5L314.7,754.0L310.7,756.2L306.8,758.2L303.0,760.0L298.9,761.8L294.9,763.2L290.4,764.8L286.1,766.0L282.0,767.0L277.0,768.0L272.0,768.7L271.9,769.0M323.8,527.0L321.1,535.8L318.1,546.0L310.3,573.8L301.0,608.5L291.2,646.6L281.8,684.8L273.5,719.2L267.0,747.9L264.8,758.6L263.1,767.2M300.4,524.1L300.4,524.2L300.2,524.3L295.4,525.5L291.1,526.8L286.7,528.2L282.9,529.8L278.8,531.5L274.6,533.5L270.9,535.5L267.0,537.8L263.0,540.2L259.0,543.0L255.4,545.8L251.6,548.8L248.2,551.8L244.7,555.0L241.2,558.5L238.0,562.0L234.8,565.8L231.8,569.5L228.8,573.5L226.0,577.5L223.3,581.8L220.7,586.0L218.2,590.5L216.0,594.9L214.0,599.2L211.9,604.0L210.1,608.8L208.4,613.5L206.9,618.2L205.5,623.2L204.3,628.2L203.3,633.0L202.5,638.0L201.8,643.0L201.2,648.0L200.9,653.0L200.7,658.0L200.7,663.0L200.8,667.8L201.1,672.8L201.6,677.5L202.2,682.5L203.0,687.2L204.0,692.0L205.2,696.8L206.5,701.5L208.0,706.0L209.5,710.2L211.2,714.5L213.2,719.0L215.3,723.0L217.5,727.0L219.9,731.0L222.3,734.8L225.0,738.5L227.8,742.0L230.5,745.2L233.5,748.5L236.5,751.5L239.8,754.5L242.8,757.0L246.0,759.5L250.3,762.5L254.3,765.0L254.3,765.2M276.5,525.0L276.1,525.2L270.6,526.8L266.0,528.2L261.8,529.8L257.4,531.5L252.9,533.5L248.2,535.8L244.0,538.0L239.7,540.5L235.7,543.0L231.7,545.8L227.6,548.8L223.8,551.8L220.0,555.0L216.5,558.2L213.0,561.8L209.7,565.2L206.5,569.0L203.5,572.8L200.5,576.7L197.7,580.7L195.2,584.7L192.8,588.9L190.5,593.1L188.2,597.7L186.2,602.3L184.5,606.7L183.0,611.0L181.5,615.8L180.2,620.3L179.1,625.2L178.2,629.8L177.5,634.8L177.0,639.5L176.6,644.5L176.5,649.2L176.5,654.0L176.7,659.0L177.1,663.8L177.7,668.5L178.5,673.2L179.4,678.0L180.5,682.5L181.8,686.9L183.2,691.5L185.0,696.2L186.8,700.5L188.8,704.9L191.0,709.3L193.2,713.3L195.8,717.5L198.4,721.5L201.2,725.4L204.2,729.2L207.2,732.8L210.4,736.2L213.9,739.8L217.3,743.0L220.8,746.0L224.5,749.0L228.5,752.0L232.5,754.8L236.0,757.0L240.2,759.5L245.4,762.2L245.5,762.5M252.7,529.8L252.4,530.0L247.5,532.0L243.1,534.0L239.0,536.0L235.2,538.0L231.3,540.2L227.3,542.8L223.5,545.2L219.7,548.0L216.1,550.8L212.5,553.8L209.1,556.8L205.6,560.0L202.5,563.2L199.2,566.7L196.3,570.2L193.5,573.7L190.8,577.5L188.2,581.1L185.8,585.1L183.5,588.9L181.2,593.1L179.3,597.2L177.5,601.2L175.8,605.5L174.2,609.7L173.0,613.6L171.8,618.1L170.7,622.2L169.8,626.8L169.1,631.0L168.6,635.5L168.2,640.0L167.9,644.5L167.9,649.0L168.0,653.5L168.2,658.0L168.7,662.5L169.2,666.5L170.0,670.9L171.0,675.6L172.0,679.6L173.2,683.9L174.8,688.4L176.2,692.5L178.0,696.7L179.8,700.5L181.8,704.5L184.0,708.6L186.2,712.4L188.8,716.2L191.5,720.1L194.2,723.8L197.2,727.4L200.1,730.8L203.2,734.0L206.5,737.2L210.0,740.5L213.2,743.2L216.6,746.0L220.3,748.8L223.8,751.2L227.3,753.5L231.8,756.2L236.3,758.8L236.6,759.0L236.6,759.1M229.4,538.6L229.5,538.8L229.2,538.8L229.1,539.0L224.5,541.8L220.3,544.5L214.3,548.8L208.1,553.8L205.0,556.5L202.0,559.2L199.0,562.2L196.2,565.2L193.8,568.0L191.0,571.3L188.5,574.6L186.0,578.0L183.8,581.3L181.5,584.9L179.5,588.3L177.5,591.9L175.8,595.4L174.0,599.2L172.5,602.8L171.0,606.7L169.8,610.3L168.5,614.3L167.5,618.0L166.5,622.2L165.7,626.0L165.0,630.5L164.5,634.4L164.1,638.2L163.9,642.2L163.8,646.2L163.8,650.2L164.0,654.5L164.3,658.2L164.8,662.4L165.3,666.0L166.0,670.1L166.8,673.6L167.8,677.7L168.8,681.2L170.0,685.2L171.5,689.4L173.0,693.2L174.5,696.6L176.2,700.3L178.2,704.2L180.2,707.7L182.2,711.0L184.5,714.5L186.8,717.8L189.5,721.4L194.5,727.5L197.2,730.6L200.3,733.8L203.4,736.8L206.5,739.5L212.5,744.5L218.6,749.0L222.3,751.5L227.1,754.5L227.2,754.8M207.5,552.0L206.8,552.8L200.9,558.0L196.2,562.5L191.5,567.7L187.0,573.2L182.8,579.1L178.8,585.3L175.2,591.5L172.2,597.6L169.5,604.1L167.0,611.2L165.0,618.2L163.5,625.0L162.5,631.5L161.7,638.5L161.5,645.5L161.6,652.5L162.1,659.2L163.0,666.0L163.8,670.0L164.5,673.4L166.2,680.1L168.5,686.9L171.0,693.3L174.0,699.8L177.5,706.3L181.2,712.4L185.5,718.5L190.0,724.2L194.5,729.4L199.5,734.5L204.7,739.2L210.5,744.0L216.6,748.5L217.0,748.9L217.3,749.0L217.2,749.2M187.3,570.4L187.5,570.5L183.0,576.4L179.5,581.5L176.5,586.4L173.8,591.3L171.2,596.3L168.8,602.0L166.8,607.2L165.0,612.5L163.5,617.9L162.2,623.4L161.2,629.1L160.5,635.5L160.0,641.5L159.9,647.5L160.1,653.5L160.7,659.5L161.5,665.6L162.5,670.9L163.8,676.1L165.5,682.2L167.5,687.9L169.8,693.5L172.2,698.9L175.0,704.1L178.0,709.3L181.2,714.2L184.5,718.8L188.5,723.8L192.5,728.4L196.7,732.8L200.6,736.5L205.2,740.6L205.8,741.0L206.4,741.6M170.3,595.4L170.5,595.5L170.3,595.8L170.3,596.0L170.1,596.2L170.0,596.5L169.8,596.8L168.7,599.5L166.2,605.6L165.0,609.1L163.8,613.0L162.5,617.6L161.5,621.8L160.8,625.6L160.0,630.3L159.5,634.4L159.1,639.2L158.9,643.5L158.9,648.0L159.0,652.2L159.4,656.8L159.8,660.8L160.5,665.7L161.5,670.9L162.5,675.1L163.8,679.7L165.0,683.6L166.5,687.8L168.2,692.2L170.0,696.1L172.0,700.2L174.0,704.0L176.5,708.3L178.8,711.8L181.2,715.5L184.0,719.2L186.5,722.4L190.5,727.0L193.0,729.8L193.7,730.7M158.8,632.4L158.8,634.0L158.6,634.8L158.2,642.2L158.1,648.0L158.3,653.2L158.8,658.4L159.3,662.5L160.2,668.4L161.2,673.0L162.5,677.9L164.0,682.8L165.8,687.7L167.5,692.1L169.5,696.5L171.5,700.5L174.9,706.8L176.3,709.0L176.4,709.2L176.8,709.8L176.8,710.0L177.3,710.5L177.2,710.9" fill="none" stroke="#000" stroke-width="1" stroke-linejoin="round" shape-rendering="crispEdges"/>
<ellipse cx="292.65" cy="648.66" rx="137.86" ry="125.58" fill="none" stroke="#000" stroke-width="1.3"/>
</g>
<clipPath id="clip_lat"><rect x="685" y="524" width="274" height="249"/></clipPath>
<g clip-path="url(#clip_lat)">
<ellipse cx="820.65" cy="648.66" rx="138.16" ry="125.88" fill="#000"/>
<path d="M815.0,524.2L815.2,524.0L828.2,524.0L828.5,524.2L832.5,524.2L832.8,524.5L835.5,524.5L835.8,524.8L838.0,524.8L838.2,525.0L840.0,525.0L840.2,525.2L842.0,525.2L842.2,525.5L843.8,525.5L844.0,525.8L845.5,525.8L845.8,526.0L847.0,526.0L847.2,526.2L848.2,526.2L848.5,526.5L849.8,526.5L850.0,526.8L851.0,526.8L851.2,527.0L852.2,527.0L852.5,527.2L853.2,527.2L853.5,527.5L854.5,527.5L854.8,527.8L855.5,527.8L855.8,528.0L856.5,528.0L856.8,528.2L857.8,528.2L858.0,528.5L858.5,528.5L858.8,528.8L859.5,528.8L859.8,529.0L860.5,529.0L860.8,529.2L861.5,529.2L861.8,529.5L862.2,529.5L862.5,529.8L863.2,529.8L863.5,530.0L864.0,530.0L864.2,530.2L865.0,530.2L865.2,530.5L865.8,530.5L866.0,530.8L866.5,530.8L866.8,531.0L867.2,531.0L867.5,531.2L868.0,531.2L868.2,531.5L868.8,531.5L869.0,531.8L869.5,531.8L869.8,532.0L870.2,532.0L870.5,532.2L871.0,532.2L871.2,532.5L871.8,532.5L872.0,532.8L872.5,532.8L872.8,533.0L873.0,533.0L873.2,533.2L873.8,533.2L874.0,533.5L874.5,533.5L874.8,533.8L875.0,533.8L875.2,534.0L875.8,534.0L876.0,534.2L876.2,534.2L876.5,534.5L877.0,534.5L877.2,534.8L877.5,534.8L877.8,535.0L878.2,535.0L878.5,535.2L878.8,535.2L879.0,535.5L879.2,535.5L879.5,535.8L880.0,535.8L880.2,536.0L880.5,536.0L880.8,536.2L881.0,536.2L881.2,536.5L881.8,536.5L882.0,536.8L882.2,536.8L882.5,537.0L882.8,537.0L883.0,537.2L883.2,537.2L883.5,537.5L883.8,537.5L884.0,537.8L884.5,537.8L884.8,538.0L885.0,538.0L885.2,538.2L885.5,538.2L885.8,538.5L886.0,538.5L886.2,538.8L886.5,538.8L886.8,539.0L887.0,539.0L887.2,539.2L887.5,539.2L887.8,539.5L888.0,539.5L888.2,539.8L888.5,539.8L888.8,540.0L889.0,540.0L889.2,540.2L889.5,540.2L889.8,540.5L890.0,540.5L890.2,540.8L890.5,540.8L891.0,541.2L891.2,541.2L891.5,541.5L891.8,541.5L892.0,541.8L892.2,541.8L892.5,542.0L892.8,542.0L893.0,542.2L893.2,542.2L893.8,542.8L894.0,542.8L894.2,543.0L894.5,543.0L894.8,543.2L895.0,543.2L895.5,543.8L895.8,543.8L896.0,544.0L896.2,544.0L896.8,544.5L897.0,544.5L897.2,544.8L897.5,544.8L898.0,545.2L898.2,545.2L898.5,545.5L898.8,545.5L899.2,546.0L899.5,546.0L900.0,546.5L900.2,546.5L900.8,547.0L901.0,547.0L901.2,547.2L901.5,547.2L902.0,547.8L902.2,547.8L902.8,548.2L903.0,548.2L903.5,548.8L903.8,548.8L904.5,549.5L904.8,549.5L905.2,550.0L905.5,550.0L906.0,550.5L906.2,550.5L907.0,551.2L907.2,551.2L908.0,552.0L908.2,552.0L909.0,552.8L909.2,552.8L910.0,553.5L910.2,553.5L911.2,554.5L911.5,554.5L912.5,555.5L912.8,555.5L914.0,556.8L914.2,556.8L915.5,558.0L915.8,558.0L917.8,560.0L918.0,560.0L927.0,569.0L927.0,569.2L929.0,571.2L929.0,571.5L930.2,572.8L930.2,573.0L931.5,574.2L931.5,574.5L932.5,575.5L932.5,575.8L933.2,576.5L933.2,576.8L934.0,577.5L934.0,577.8L934.8,578.5L934.8,578.8L935.5,579.5L935.5,579.8L936.2,580.5L936.2,580.8L936.8,581.2L936.8,581.5L937.2,582.0L937.2,582.2L937.8,582.8L937.8,583.0L938.2,583.5L938.2,583.8L938.8,584.2L938.8,584.5L939.2,585.0L939.2,585.2L939.8,585.8L939.8,586.0L940.0,586.2L940.0,586.5L940.5,587.0L940.5,587.2L941.0,587.8L941.0,588.0L941.2,588.2L941.2,588.5L941.8,589.0L941.8,589.2L942.0,589.5L942.0,589.8L942.2,590.0L942.2,590.2L942.8,590.8L942.8,591.0L943.0,591.2L943.0,591.5L943.2,591.8L943.2,592.0L943.8,592.5L943.8,592.8L944.0,593.0L944.0,593.2L944.2,593.5L944.2,593.8L944.5,594.0L944.5,594.2L944.8,594.5L944.8,594.8L945.0,595.0L945.0,595.2L945.2,595.5L945.2,595.8L945.5,596.0L945.5,596.2L945.8,596.5L945.8,596.8L946.0,597.0L946.0,597.3L945.8,597.0L945.7,596.8L945.5,596.6L945.4,596.2L945.2,596.1L945.1,595.8L941.8,590.1L938.2,584.7L934.0,579.0L929.2,573.3L924.2,567.9L919.1,563.0L913.3,558.0L907.7,553.8L901.5,549.5L895.0,545.5L888.5,542.0L881.6,538.8L874.3,535.8L867.1,533.2L859.4,531.0L852.1,529.2L843.8,527.8L836.0,526.8L828.8,526.2L821.0,526.0L812.8,526.1L804.8,526.8L797.0,527.8L790.0,529.0L782.4,530.8L775.3,532.8L767.9,535.2L761.0,538.0L754.5,541.0L748.2,544.2L741.5,548.2L734.7,552.8L734.2,553.0L734.1,552.9L734.2,552.8L734.5,552.8L735.2,552.0L735.5,552.0L736.2,551.2L736.5,551.2L737.0,550.8L737.2,550.8L738.0,550.0L738.2,550.0L738.8,549.5L739.0,549.5L739.5,549.0L739.8,549.0L740.2,548.5L740.5,548.5L741.0,548.0L741.2,548.0L741.8,547.5L742.0,547.5L742.5,547.0L742.8,547.0L743.2,546.5L743.5,546.5L744.0,546.0L744.2,546.0L744.5,545.8L744.8,545.8L745.2,545.2L745.5,545.2L746.0,544.8L746.2,544.8L746.5,544.5L746.8,544.5L747.2,544.0L747.5,544.0L747.8,543.8L748.0,543.8L748.2,543.5L748.5,543.5L749.0,543.0L749.2,543.0L749.5,542.8L749.8,542.8L750.0,542.5L750.2,542.5L750.8,542.0L751.0,542.0L751.2,541.8L751.5,541.8L751.8,541.5L752.0,541.5L752.2,541.2L752.5,541.2L752.8,541.0L753.0,541.0L753.5,540.5L753.8,540.5L754.0,540.2L754.2,540.2L754.5,540.0L754.8,540.0L755.0,539.8L755.2,539.8L755.5,539.5L755.8,539.5L756.0,539.2L756.2,539.2L756.5,539.0L756.8,539.0L757.0,538.8L757.2,538.8L757.5,538.5L757.8,538.5L758.0,538.2L758.2,538.2L758.5,538.0L759.0,538.0L759.2,537.8L759.5,537.8L759.8,537.5L760.0,537.5L760.2,537.2L760.5,537.2L760.8,537.0L761.0,537.0L761.2,536.8L761.5,536.8L761.8,536.5L762.2,536.5L762.5,536.2L762.8,536.2L763.0,536.0L763.2,536.0L763.5,535.8L764.0,535.8L764.2,535.5L764.5,535.5L764.8,535.2L765.0,535.2L765.2,535.0L765.8,535.0L766.0,534.8L766.2,534.8L766.5,534.5L767.0,534.5L767.2,534.2L767.5,534.2L767.8,534.0L768.2,534.0L768.5,533.8L769.0,533.8L769.2,533.5L769.5,533.5L769.8,533.2L770.2,533.2L770.5,533.0L771.0,533.0L771.2,532.8L771.5,532.8L771.8,532.5L772.2,532.5L772.5,532.2L773.0,532.2L773.2,532.0L773.8,532.0L774.0,531.8L774.5,531.8L774.8,531.5L775.2,531.5L775.5,531.2L776.0,531.2L776.2,531.0L776.8,531.0L777.0,530.8L777.5,530.8L777.8,530.5L778.5,530.5L778.8,530.2L779.2,530.2L779.5,530.0L780.0,530.0L780.2,529.8L781.0,529.8L781.2,529.5L781.8,529.5L782.0,529.2L782.8,529.2L783.0,529.0L783.8,529.0L784.0,528.8L784.8,528.8L785.0,528.5L785.8,528.5L786.0,528.2L786.8,528.2L787.0,528.0L787.8,528.0L788.0,527.8L788.8,527.8L789.0,527.5L790.0,527.5L790.2,527.2L791.0,527.2L791.2,527.0L792.2,527.0L792.5,526.8L793.5,526.8L793.8,526.5L795.0,526.5L795.2,526.2L796.5,526.2L796.8,526.0L798.0,526.0L798.2,525.8L799.5,525.8L799.8,525.5L801.2,525.5L801.5,525.2L803.2,525.2L803.5,525.0L805.2,525.0L805.5,524.8L807.8,524.8L808.0,524.5L810.8,524.5L811.0,524.2L815.0,524.2Z" fill="#0000bf" stroke="#0000bf" stroke-width="0.5"/>
<path d="M816.6,526.0L822.8,526.0L828.5,526.2L834.0,526.6L840.2,527.2L845.4,528.0L850.9,529.0L856.5,530.2L862.2,531.8L867.9,533.5L872.9,535.2L878.1,537.2L883.3,539.5L888.5,542.0L893.2,544.5L897.9,547.2L903.1,550.5L907.7,553.8L912.0,557.0L916.3,560.5L920.5,564.2L924.2,567.9L928.0,571.9L931.8,576.2L935.0,580.3L937.8,584.0L940.2,587.7L943.5,593.0L945.1,595.8L945.2,596.1L945.4,596.2L945.5,596.6L945.7,596.8L945.8,597.0L946.2,597.5L946.2,597.8L946.5,598.0L946.5,598.2L946.8,598.5L946.8,598.8L947.0,599.0L947.0,599.2L947.2,599.5L947.2,599.8L947.5,600.0L947.5,600.5L947.8,600.8L947.8,601.0L948.0,601.2L948.0,601.5L948.2,601.8L948.2,602.0L948.5,602.2L948.5,602.8L948.8,603.0L948.8,603.2L949.0,603.5L949.0,603.8L949.2,604.0L949.2,604.5L949.5,604.8L949.5,605.0L949.8,605.2L949.8,605.8L950.0,606.0L950.0,606.2L950.2,606.5L950.2,607.0L950.5,607.2L950.5,607.8L950.8,608.0L950.8,608.2L951.0,608.5L951.0,609.0L951.2,609.2L951.2,609.8L951.5,610.0L951.5,610.5L951.8,610.8L951.8,611.2L952.0,611.5L952.0,612.0L952.2,612.2L952.2,612.8L952.5,613.0L952.5,613.5L952.8,613.8L952.8,614.2L953.0,614.5L953.0,615.2L953.2,615.5L953.2,616.0L953.5,616.2L953.5,617.0L950.2,608.4L948.8,604.9L947.0,601.2L945.0,597.4L943.0,593.8L940.8,590.2L938.5,586.8L936.0,583.2L933.5,580.0L930.8,576.6L928.0,573.4L925.0,570.2L922.0,567.2L918.8,564.2L915.7,561.5L912.0,558.5L908.8,556.0L905.3,553.5L901.6,551.0L898.0,548.8L893.7,546.2L890.0,544.2L886.1,542.2L881.8,540.2L877.7,538.5L873.2,536.8L869.0,535.2L864.3,533.8L859.9,532.5L856.0,531.5L851.5,530.5L846.3,529.5L842.5,528.9L837.7,528.2L833.2,527.8L829.0,527.5L824.2,527.3L819.8,527.2L815.2,527.3L811.0,527.5L806.0,527.9L801.5,528.4L796.8,529.0L788.5,530.5L784.1,531.5L779.2,532.8L775.0,534.0L770.4,535.5L766.3,537.0L762.5,538.5L758.4,540.2L754.1,542.2L750.2,544.2L746.5,546.2L742.7,548.5L738.7,551.0L735.4,553.2L732.0,555.8L726.0,560.5L722.3,563.8L718.0,567.8L717.8,567.7L725.2,560.2L725.5,560.2L727.5,558.2L727.8,558.2L729.2,556.8L729.5,556.8L730.8,555.5L731.0,555.5L732.0,554.5L732.2,554.5L733.0,553.8L733.2,553.8L734.1,552.9L734.2,553.0L734.7,552.8L741.5,548.2L748.2,544.2L755.0,540.8L761.6,537.8L768.6,535.0L775.3,532.8L782.4,530.8L788.8,529.2L795.4,528.0L802.5,527.0L809.8,526.3L816.6,526.0Z" fill="#0000ff" stroke="#0000ff" stroke-width="0.5"/>
<path d="M817.9,527.2L824.2,527.3L830.5,527.6L837.2,528.2L843.3,529.0L849.1,530.0L856.0,531.5L861.7,533.0L867.5,534.8L873.2,536.8L879.5,539.2L885.0,541.8L890.5,544.5L895.5,547.2L900.8,550.5L906.0,554.0L910.7,557.5L915.7,561.5L920.2,565.5L924.5,569.7L928.5,574.0L932.5,578.7L936.0,583.2L939.5,588.2L942.5,593.0L945.5,598.3L948.2,603.8L951.0,610.2L953.0,615.7L953.2,616.0L953.2,616.5L953.5,616.8L953.5,617.0L953.8,617.2L953.8,617.8L954.0,618.0L954.0,618.8L954.2,619.0L954.2,619.8L954.5,620.0L954.5,620.8L954.8,621.0L954.8,621.8L955.0,622.0L955.0,623.0L955.2,623.2L955.2,624.0L955.5,624.2L955.5,625.2L955.8,625.5L955.8,626.8L956.0,627.0L956.0,628.0L956.2,628.2L956.2,629.5L956.5,629.8L956.5,631.2L956.8,631.5L956.8,633.0L957.0,633.2L957.0,635.1L956.0,630.1L955.0,625.8L953.8,621.2L952.5,617.3L950.8,612.5L949.0,608.3L947.0,603.9L945.0,600.0L942.8,596.0L940.2,591.9L937.5,587.8L934.8,584.0L931.8,580.2L928.5,576.4L925.2,572.8L921.8,569.3L918.5,566.2L914.7,563.0L910.7,559.8L906.7,556.8L902.7,554.0L898.5,551.2L894.2,548.8L889.7,546.2L885.2,544.0L880.3,541.8L875.4,539.8L870.8,538.0L866.3,536.5L861.4,535.0L856.7,533.8L851.2,532.5L846.0,531.5L841.3,530.8L835.8,530.1L830.5,529.6L825.2,529.3L820.2,529.2L815.0,529.2L809.8,529.5L804.2,529.9L799.2,530.5L794.2,531.2L788.8,532.2L784.2,533.2L779.2,534.5L774.1,536.0L769.5,537.5L764.7,539.2L760.4,541.0L755.9,543.0L751.3,545.2L747.1,547.5L742.7,550.0L738.7,552.5L734.3,555.5L730.5,558.2L726.7,561.2L723.2,564.2L719.5,567.7L716.5,570.6L713.5,573.8L709.8,578.1L706.4,582.2L706.2,582.5L706.0,582.7L705.9,582.6L706.2,582.2L706.2,582.0L706.8,581.5L706.8,581.2L707.5,580.5L707.5,580.2L708.0,579.8L708.0,579.5L708.8,578.8L708.8,578.5L709.5,577.8L709.5,577.5L710.2,576.8L710.2,576.5L711.2,575.5L711.2,575.2L712.2,574.2L712.2,574.0L713.2,573.0L713.2,572.8L714.8,571.2L714.8,571.0L716.8,569.0L716.8,568.8L717.8,567.7L718.0,567.8L722.3,563.8L726.0,560.5L729.0,558.0L732.3,555.5L735.8,553.0L739.5,550.5L746.5,546.2L753.6,542.5L757.3,540.8L761.3,539.0L769.0,536.0L776.6,533.5L781.1,532.2L785.1,531.2L789.7,530.2L793.7,529.5L801.5,528.4L809.8,527.6L817.9,527.2Z" fill="#0040ff" stroke="#0040ff" stroke-width="0.5"/>
<path d="M814.7,529.2L822.0,529.2L829.2,529.5L836.0,530.1L843.0,531.0L850.0,532.2L856.7,533.8L863.1,535.5L869.3,537.5L875.4,539.8L882.0,542.5L888.2,545.5L894.2,548.8L900.1,552.2L905.3,555.8L910.7,559.8L915.9,564.0L920.9,568.5L925.5,573.1L929.8,577.8L934.0,583.0L937.8,588.1L941.2,593.5L944.5,599.1L947.5,605.0L949.0,608.3L950.5,611.9L951.8,615.2L953.0,618.8L955.0,625.8L956.0,630.1L956.8,634.1L956.9,634.5L957.0,635.2L957.2,635.5L957.2,637.8L957.5,638.0L957.5,641.5L957.8,641.8L957.8,652.0L957.5,652.0L957.2,645.8L956.5,639.8L955.8,635.2L955.0,631.5L953.8,626.4L952.5,622.2L950.8,617.1L949.0,612.7L946.8,607.7L944.5,603.3L942.0,598.8L939.2,594.4L936.2,590.0L933.2,586.0L930.0,582.0L926.2,577.8L922.5,573.9L918.7,570.2L914.7,566.8L910.4,563.2L906.0,560.0L901.7,557.0L896.9,554.0L892.1,551.2L887.4,548.8L882.2,546.2L877.0,544.0L871.9,542.0L866.9,540.2L861.3,538.5L855.6,537.0L850.2,535.8L844.8,534.7L838.8,533.8L833.5,533.2L827.8,532.7L822.0,532.5L816.2,532.5L810.5,532.6L805.0,533.0L799.8,533.5L794.0,534.3L788.7,535.2L782.9,536.5L777.0,538.0L772.0,539.5L766.8,541.2L761.5,543.2L756.2,545.5L751.5,547.8L746.7,550.2L741.8,553.0L737.0,556.0L732.7,559.0L728.3,562.2L724.0,565.7L720.1,569.2L716.5,572.7L713.0,576.3L709.5,580.3L706.5,584.0L703.8,587.7L700.5,592.6L697.8,597.1L697.6,597.2L697.5,597.5L697.2,597.6L697.2,597.5L697.5,597.2L697.5,597.0L697.8,596.8L697.8,596.5L698.0,596.2L698.0,596.0L698.2,595.8L698.2,595.5L698.5,595.2L698.5,595.0L698.8,594.8L698.8,594.5L699.0,594.2L699.0,594.0L699.2,593.8L699.2,593.5L699.5,593.2L699.5,593.0L700.0,592.5L700.0,592.2L700.2,592.0L700.2,591.8L700.5,591.5L700.5,591.2L700.8,591.0L700.8,590.8L701.2,590.2L701.2,590.0L701.5,589.8L701.5,589.5L702.0,589.0L702.0,588.8L702.2,588.5L702.2,588.2L702.8,587.8L702.8,587.5L703.0,587.2L703.0,587.0L703.5,586.5L703.5,586.2L703.8,586.0L703.8,585.8L704.2,585.2L704.2,585.0L704.8,584.5L704.8,584.2L705.2,583.8L705.2,583.5L705.8,583.0L705.8,582.8L705.9,582.6L706.0,582.7L706.2,582.5L706.4,582.2L711.0,576.6L716.0,571.1L719.1,568.0L722.4,565.0L725.5,562.2L729.2,559.2L732.9,556.5L736.5,554.0L740.3,551.5L744.4,549.0L748.4,546.8L752.8,544.5L757.0,542.5L761.0,540.8L765.4,539.0L769.5,537.5L774.1,536.0L778.3,534.8L783.1,533.5L787.5,532.5L795.8,531.0L801.0,530.3L805.5,529.8L810.0,529.5L814.7,529.2Z" fill="#0080ff" stroke="#0080ff" stroke-width="0.5"/>
<path d="M813.9,532.5L821.2,532.5L828.5,532.8L836.2,533.5L843.5,534.5L850.2,535.8L857.6,537.5L864.6,539.5L871.9,542.0L878.8,544.8L885.4,547.8L891.7,551.0L898.1,554.8L904.2,558.8L909.8,562.8L915.3,567.2L920.5,571.9L925.5,577.0L930.2,582.3L934.5,587.6L938.5,593.2L942.0,598.8L945.2,604.7L948.2,611.0L950.8,617.1L953.0,623.8L954.8,630.4L956.0,636.6L956.5,639.8L957.0,644.0L957.3,647.2L957.5,652.0L957.8,652.0L957.8,652.8L957.5,653.0L957.5,656.5L957.2,656.8L957.2,659.0L957.0,659.2L957.0,661.2L956.8,661.5L956.8,663.0L956.5,663.2L956.5,664.8L956.2,665.0L956.2,666.2L956.0,666.5L956.0,667.5L955.8,667.8L956.1,661.0L956.2,655.5L956.0,651.2L955.5,646.2L954.8,641.2L953.8,636.2L952.5,631.2L950.8,625.6L949.0,620.8L946.8,615.6L944.5,611.0L942.0,606.4L939.0,601.5L936.0,597.1L932.8,592.7L929.2,588.4L925.5,584.3L921.5,580.2L917.2,576.2L912.9,572.5L908.5,569.0L903.6,565.5L898.6,562.2L893.6,559.2L888.6,556.5L883.1,553.8L877.5,551.2L871.9,549.0L866.2,547.0L860.6,545.2L854.5,543.6L848.5,542.2L842.2,541.0L836.5,540.2L830.5,539.5L824.0,539.0L817.8,538.8L811.8,538.9L805.8,539.1L799.8,539.6L794.0,540.3L787.8,541.3L781.6,542.5L775.5,544.0L769.5,545.7L764.1,547.5L758.8,549.5L753.5,551.8L748.2,554.2L742.9,557.0L737.8,560.0L733.1,563.0L728.5,566.2L724.0,569.7L719.8,573.4L715.8,577.1L712.0,580.9L708.5,584.9L705.0,589.2L702.0,593.3L699.2,597.5L696.8,601.7L694.0,606.9L691.8,611.8L691.6,612.0L691.5,612.4L691.2,612.5L691.2,612.2L691.5,612.0L691.5,611.5L691.8,611.2L691.8,610.8L692.0,610.5L692.0,610.0L692.2,609.8L692.2,609.5L692.5,609.2L692.5,608.8L692.8,608.5L692.8,608.0L693.0,607.8L693.0,607.2L693.2,607.0L693.2,606.8L693.5,606.5L693.5,606.0L693.8,605.8L693.8,605.5L694.0,605.2L694.0,604.8L694.2,604.5L694.2,604.2L694.5,604.0L694.5,603.5L694.8,603.2L694.8,603.0L695.0,602.8L695.0,602.5L695.2,602.2L695.2,601.8L695.5,601.5L695.5,601.2L695.8,601.0L695.8,600.8L696.0,600.5L696.0,600.2L696.2,600.0L696.2,599.5L696.5,599.2L696.5,599.0L696.8,598.8L696.8,598.5L697.0,598.2L697.0,598.0L697.2,597.8L697.2,597.6L697.5,597.5L697.6,597.2L697.8,597.1L700.2,593.0L703.2,588.5L705.8,585.0L708.5,581.5L711.5,578.0L715.0,574.2L718.5,570.7L722.0,567.5L725.5,564.5L729.3,561.5L733.0,558.8L737.4,555.8L741.4,553.2L745.7,550.8L750.0,548.5L754.6,546.2L759.1,544.2L764.1,542.2L768.9,540.5L773.6,539.0L778.0,537.8L782.9,536.5L787.5,535.5L793.0,534.5L798.0,533.8L803.2,533.2L808.5,532.7L813.9,532.5Z" fill="#00afff" stroke="#00afff" stroke-width="0.5"/>
<path d="M807.8,539.0L815.8,538.8L823.8,539.0L831.8,539.6L839.8,540.6L847.5,542.0L855.2,543.8L863.1,546.0L870.5,548.5L878.1,551.5L885.2,554.8L891.9,558.2L898.6,562.2L905.0,566.5L911.0,571.0L916.8,575.8L922.2,580.9L927.2,586.2L932.0,591.8L936.5,597.8L940.5,603.9L944.0,610.0L945.8,613.5L947.2,616.7L949.8,622.8L952.0,629.5L953.8,636.2L954.5,639.8L955.1,643.2L955.5,646.5L955.9,650.5L956.1,654.0L956.2,657.5L956.1,662.5L955.7,667.2L955.8,669.0L955.5,669.2L955.5,670.2L955.2,670.5L955.2,671.2L955.0,671.5L955.0,672.5L954.8,672.8L954.8,673.5L954.5,673.8L954.5,674.5L954.2,674.8L954.2,675.5L954.0,675.8L954.0,676.5L953.8,676.8L953.8,677.2L953.5,677.5L953.5,678.2L953.2,678.5L953.2,679.0L953.0,679.2L953.0,680.0L952.8,680.2L952.8,680.8L952.5,681.0L952.5,681.5L952.2,681.8L952.2,682.2L952.0,682.4L953.0,676.3L953.5,671.0L953.7,666.2L953.6,661.8L953.2,657.1L952.5,651.9L951.5,647.1L950.2,642.4L948.8,637.9L946.8,632.8L944.5,628.0L942.0,623.3L939.2,618.8L936.2,614.3L933.0,610.0L929.2,605.5L925.2,601.1L921.2,597.1L917.0,593.2L912.5,589.5L907.6,585.8L902.6,582.2L897.5,579.0L892.0,575.8L886.7,573.0L881.0,570.2L875.2,567.8L869.0,565.3L863.0,563.2L856.8,561.3L850.8,559.7L844.3,558.2L837.8,557.0L831.2,556.0L824.8,555.3L818.2,554.8L811.8,554.5L805.2,554.5L799.0,554.8L792.5,555.2L786.0,555.9L779.8,556.9L773.8,558.0L767.5,559.5L761.8,561.0L755.8,563.0L750.2,565.0L744.8,567.2L739.4,569.8L734.2,572.5L729.5,575.3L724.8,578.3L720.2,581.6L716.0,585.0L712.0,588.6L708.2,592.3L704.8,596.1L701.5,600.2L698.8,604.0L696.0,608.3L693.8,612.3L691.8,616.4L689.5,621.9L687.8,626.8L687.8,627.2L687.5,627.2L687.5,627.0L687.8,626.8L687.8,625.8L688.0,625.5L688.0,624.5L688.2,624.2L688.2,623.2L688.5,623.0L688.5,622.2L688.8,622.0L688.8,621.2L689.0,621.0L689.0,620.0L689.2,619.8L689.2,619.2L689.5,619.0L689.5,618.2L689.8,618.0L689.8,617.2L690.0,617.0L690.0,616.5L690.2,616.2L690.2,615.5L690.5,615.2L690.5,614.8L690.8,614.5L690.8,613.8L691.0,613.5L691.0,613.0L691.2,612.8L691.3,612.5L691.5,612.4L693.8,607.4L696.2,602.6L698.8,598.3L701.2,594.4L704.0,590.5L707.0,586.7L710.2,582.8L713.8,579.1L717.2,575.6L721.0,572.3L724.9,569.0L728.8,566.0L733.1,563.0L737.4,560.2L741.6,557.8L746.2,555.2L750.7,553.0L755.8,550.8L760.7,548.8L765.6,547.0L770.2,545.5L775.5,544.0L780.8,542.7L786.5,541.5L791.8,540.6L797.0,539.9L802.5,539.3L807.8,539.0Z" fill="#00efff" stroke="#00efff" stroke-width="0.5"/>
<path d="M799.0,554.8L807.5,554.5L816.0,554.7L824.3,555.2L832.8,556.2L841.5,557.7L849.8,559.5L858.2,561.8L866.0,564.2L874.0,567.2L881.5,570.5L889.1,574.2L896.2,578.2L903.0,582.5L909.6,587.2L915.8,592.2L921.5,597.4L924.2,600.1L927.0,602.9L929.5,605.7L932.0,608.7L934.2,611.6L936.5,614.7L938.5,617.6L940.5,620.8L942.2,623.8L944.0,627.0L945.5,630.1L947.0,633.4L948.2,636.5L949.5,640.1L951.2,646.1L952.0,649.3L952.7,653.0L953.1,656.2L953.5,659.5L953.7,662.8L953.7,666.0L953.6,669.2L953.4,672.5L952.8,678.0L952.0,682.1L952.0,682.4L952.1,682.4L952.0,682.5L952.0,683.0L951.8,683.2L951.8,683.8L951.5,684.0L951.5,684.5L951.2,684.8L951.2,685.2L951.0,685.5L951.0,685.8L950.8,686.0L950.8,686.5L950.5,686.8L950.5,687.2L950.2,687.5L950.2,687.8L950.0,688.0L950.0,688.5L949.8,688.8L949.8,689.2L949.5,689.5L949.5,689.8L949.2,690.0L949.2,690.2L949.0,690.5L949.0,691.0L948.8,691.2L948.8,691.5L948.5,691.8L948.5,692.2L948.2,692.5L948.2,692.8L948.0,693.0L948.0,693.2L947.8,693.5L947.8,693.8L947.5,694.0L947.5,694.5L947.2,694.8L947.2,695.0L947.0,695.2L947.0,695.5L946.8,695.8L946.8,696.0L946.7,696.1L946.5,696.0L947.5,692.0L948.2,688.0L948.5,685.2L948.5,682.2L948.3,679.0L947.8,676.2L947.0,673.4L946.0,670.7L944.8,668.1L943.0,665.2L941.0,662.4L938.8,659.6L936.2,657.0L933.2,654.1L930.0,651.3L926.2,648.4L922.2,645.6L917.8,642.7L913.0,639.9L907.8,637.0L902.5,634.3L896.8,631.5L891.0,629.0L885.0,626.5L878.8,624.1L872.2,621.8L865.8,619.6L859.0,617.5L852.0,615.6L845.1,613.8L838.0,612.0L831.0,610.5L823.8,609.1L816.8,607.8L809.8,606.7L802.5,605.8L795.5,605.0L788.5,604.3L781.5,603.8L774.8,603.5L768.0,603.4L761.5,603.4L755.2,603.6L749.0,603.9L743.0,604.4L737.5,605.1L732.0,605.9L727.0,606.9L722.5,608.0L718.2,609.2L714.2,610.5L710.5,612.0L707.2,613.5L704.0,615.3L701.0,617.3L698.5,619.3L696.2,621.3L694.2,623.6L692.5,625.9L690.8,628.6L689.2,631.6L688.0,634.7L687.0,637.8L686.0,641.6L686.0,638.2L686.2,638.0L686.2,635.8L686.5,635.5L686.5,633.5L686.8,633.2L686.8,631.8L687.0,631.5L687.0,630.0L687.2,629.8L687.2,628.5L687.5,628.2L687.5,627.2L687.8,627.2L687.8,626.8L689.5,621.9L691.2,617.6L693.0,613.8L695.0,610.0L697.2,606.3L700.0,602.2L702.8,598.6L705.8,595.0L709.0,591.5L712.2,588.3L716.0,585.0L719.8,582.0L723.8,579.0L727.9,576.2L732.0,573.7L736.5,571.3L741.0,569.0L745.9,566.8L750.8,564.8L755.6,563.0L760.8,561.3L765.8,559.9L771.2,558.6L776.5,557.5L782.0,556.5L787.5,555.7L793.2,555.1L799.0,554.8Z" fill="#30ffcf" stroke="#30ffcf" stroke-width="0.5"/>
<path d="M756.8,603.5L765.8,603.4L775.0,603.5L784.5,604.0L794.5,604.9L804.5,606.0L814.5,607.5L824.5,609.2L834.5,611.3L844.5,613.6L854.2,616.2L863.8,619.0L873.2,622.1L882.2,625.4L891.0,629.0L899.2,632.7L906.8,636.4L913.2,640.0L919.5,643.8L925.2,647.7L930.2,651.5L934.8,655.5L938.5,659.3L940.2,661.4L941.8,663.4L943.0,665.2L944.2,667.2L945.2,669.1L946.2,671.3L947.0,673.4L947.5,675.0L948.0,677.2L948.3,679.0L948.5,681.2L948.5,683.5L948.4,686.0L948.1,688.8L947.5,692.2L946.5,696.0L946.7,696.1L946.5,696.2L946.5,696.5L946.2,696.8L946.2,697.0L946.0,697.2L946.0,697.5L945.8,697.8L945.8,698.0L945.5,698.2L945.5,698.5L945.2,698.8L945.2,699.0L945.0,699.2L945.0,699.5L944.8,699.8L944.8,700.0L944.5,700.2L944.5,700.5L944.2,700.8L944.2,701.0L944.0,701.2L944.0,701.5L943.5,702.0L943.5,702.2L943.2,702.5L943.2,702.8L943.0,703.0L943.0,703.2L942.8,703.5L942.8,703.8L942.2,704.2L942.2,704.5L942.0,704.8L942.0,705.0L941.8,705.2L941.8,705.5L941.2,706.0L941.2,706.2L941.0,706.5L941.0,706.8L940.5,707.2L940.5,707.5L940.0,708.0L940.0,708.2L939.8,708.5L939.8,708.7L939.6,708.5L939.6,708.2L940.0,706.8L940.3,705.2L940.2,704.2L940.0,703.2L939.5,702.4L938.8,701.9L937.8,701.5L936.5,701.4L934.5,701.5L931.5,701.9L913.8,705.6L907.5,706.7L901.5,707.6L895.2,708.4L889.0,709.0L882.5,709.5L876.0,709.8L868.8,709.9L861.5,709.9L854.0,709.6L846.5,709.2L839.0,708.5L831.5,707.7L824.0,706.7L816.5,705.4L807.8,703.8L799.2,701.9L790.8,699.7L782.2,697.3L774.0,694.6L766.0,691.8L758.1,688.8L750.4,685.5L743.5,682.3L736.8,678.9L730.2,675.4L724.0,671.8L718.0,668.0L712.2,664.2L707.5,660.8L696.5,652.7L694.2,651.2L692.2,650.3L691.2,650.0L690.2,650.0L689.2,650.2L688.5,650.6L687.8,651.4L687.2,652.3L686.8,653.6L686.2,655.7L686.0,655.7L686.0,652.5L685.8,652.2L685.8,642.2L686.0,642.0L686.0,641.6L687.0,637.8L688.2,634.0L689.2,631.6L690.5,629.1L691.8,627.0L693.2,624.8L695.0,622.7L696.8,620.9L698.8,619.0L700.8,617.5L703.0,615.9L705.5,614.5L708.0,613.2L710.8,611.9L713.8,610.7L716.8,609.7L720.0,608.7L723.5,607.7L727.2,606.9L731.0,606.1L739.0,604.9L747.8,604.0L756.8,603.5Z" fill="#60ff9f" stroke="#60ff9f" stroke-width="0.5"/>
<path d="M689.8,650.0L690.8,650.0L692.0,650.3L693.2,650.8L694.8,651.6L698.3,654.0L706.8,660.3L711.5,663.7L716.2,666.9L721.0,670.0L726.8,673.4L732.8,676.8L738.8,680.0L745.0,683.0L751.5,686.0L758.0,688.7L764.5,691.3L771.5,693.8L778.5,696.1L785.6,698.2L792.8,700.2L800.0,702.0L808.5,703.9L817.0,705.5L825.8,706.9L834.2,708.0L842.8,708.9L851.3,709.5L859.8,709.9L868.2,709.9L876.0,709.8L883.5,709.4L891.0,708.8L898.5,708.0L905.5,707.0L912.2,705.9L931.8,701.9L934.5,701.5L936.5,701.4L937.8,701.5L938.8,701.9L939.5,702.4L940.0,703.2L940.2,704.2L940.3,705.2L940.0,706.8L939.6,708.2L939.8,708.8L939.2,709.2L939.2,709.5L938.8,710.0L938.8,710.2L938.2,710.8L938.2,711.0L937.8,711.5L937.8,711.8L937.2,712.2L937.2,712.5L936.8,713.0L936.8,713.2L936.0,714.0L936.0,714.2L935.5,714.8L935.5,715.0L934.8,715.8L934.8,716.0L934.0,716.8L934.0,717.0L933.2,717.8L933.2,718.0L932.2,719.0L932.2,719.2L931.3,720.2L931.0,719.5L930.5,719.3L929.5,719.5L928.2,719.9L925.2,721.4L915.2,726.7L910.2,729.2L903.6,732.2L896.8,735.0L891.2,737.0L885.7,738.8L879.5,740.5L873.8,741.9L868.8,742.9L863.8,743.7L858.8,744.5L854.0,745.0L848.8,745.5L843.8,745.8L838.5,745.9L833.5,746.0L828.2,745.8L823.2,745.6L818.2,745.2L813.0,744.6L808.0,743.9L802.8,743.0L797.8,742.1L793.0,741.0L788.0,739.8L782.7,738.2L777.9,736.8L772.8,735.0L768.2,733.2L763.2,731.2L758.3,729.0L753.7,726.8L748.9,724.2L744.5,721.8L740.0,719.0L735.8,716.3L731.8,713.5L727.8,710.5L723.8,707.3L720.0,704.1L716.2,700.7L712.8,697.2L709.2,693.6L706.0,689.9L700.5,683.2L692.6,672.5L690.8,670.2L689.8,669.2L689.0,668.9L688.5,669.0L688.0,669.4L688.0,669.0L687.8,668.8L687.8,667.8L687.5,667.5L687.5,666.2L687.2,666.0L687.2,664.8L687.0,664.5L687.0,663.0L686.8,662.8L686.8,661.2L686.5,661.0L686.5,659.0L686.2,658.8L686.2,656.2L686.0,656.0L686.0,655.7L686.2,655.7L687.0,652.9L687.8,651.4L688.2,650.8L688.8,650.4L689.2,650.2L689.8,650.0Z" fill="#9fff60" stroke="#9fff60" stroke-width="0.5"/>
<path d="M688.5,669.0L689.0,668.9L689.5,669.1L690.2,669.7L691.0,670.5L692.8,672.8L699.2,681.6L703.2,686.7L708.2,692.5L713.5,698.0L718.8,703.0L724.2,707.7L730.1,712.2L736.1,716.5L743.2,721.0L750.2,725.0L757.8,728.7L765.1,732.0L772.8,735.0L781.0,737.7L788.9,740.0L797.2,742.0L805.4,743.5L813.8,744.7L822.2,745.5L830.5,745.9L839.0,745.9L847.2,745.6L855.5,744.9L863.8,743.7L870.8,742.5L878.2,740.8L885.0,739.0L892.0,736.7L900.0,733.8L908.1,730.2L914.8,727.0L925.2,721.4L928.5,719.8L930.0,719.4L930.8,719.4L931.0,719.5L931.1,719.8L931.3,720.2L931.2,720.5L930.2,721.5L930.2,721.8L928.8,723.2L928.8,723.5L927.0,725.2L927.0,725.5L921.6,730.9L921.5,730.8L921.0,731.0L919.0,731.9L906.1,739.0L901.7,741.2L896.9,743.5L892.3,745.5L887.9,747.2L883.1,749.0L878.5,750.5L873.4,752.0L868.7,753.2L864.3,754.2L859.3,755.2L854.9,756.0L850.0,756.7L845.2,757.2L840.8,757.6L836.0,757.9L831.2,758.0L826.5,758.0L821.8,757.8L817.0,757.6L812.5,757.2L808.0,756.7L803.1,756.0L798.7,755.2L793.8,754.3L789.3,753.2L784.4,752.0L780.1,750.8L775.4,749.2L771.2,747.8L766.6,746.0L762.4,744.2L758.0,742.2L753.9,740.2L749.7,738.0L745.7,735.8L742.0,733.5L738.1,731.0L734.5,728.5L730.8,725.8L727.2,723.0L722.8,719.2L718.2,715.1L714.0,710.9L710.0,706.6L706.2,702.2L702.5,697.5L699.2,693.0L693.0,684.2L692.0,683.0L691.8,682.8L691.5,682.9L691.5,682.5L691.2,682.2L691.2,681.8L691.0,681.5L691.0,680.8L690.8,680.5L690.8,680.0L690.5,679.8L690.5,679.2L690.2,679.0L690.2,678.2L690.0,678.0L690.0,677.5L689.8,677.2L689.8,676.5L689.5,676.2L689.5,675.5L689.2,675.2L689.2,674.5L689.0,674.2L689.0,673.5L688.8,673.2L688.8,672.5L688.5,672.2L688.5,671.5L688.2,671.2L688.2,670.2L688.0,670.0L688.0,669.4L688.5,669.0Z" fill="#dfff20" stroke="#dfff20" stroke-width="0.5"/>
<path d="M691.5,683.0L691.5,682.9L691.8,682.8L692.0,683.0L693.2,684.5L700.5,694.8L705.2,701.0L709.2,705.8L713.5,710.4L718.9,715.8L724.5,720.8L730.1,725.2L736.2,729.7L742.8,734.0L749.7,738.0L757.0,741.8L764.2,745.0L771.8,748.0L779.3,750.5L787.3,752.8L794.8,754.5L803.0,756.0L810.8,757.0L819.0,757.7L827.2,758.0L835.2,757.9L843.2,757.4L851.5,756.5L859.3,755.2L866.6,753.8L874.3,751.8L881.6,749.5L889.2,746.8L895.2,744.2L901.7,741.2L908.5,737.8L919.2,731.8L921.0,731.0L921.5,730.8L921.6,730.9L918.0,734.5L917.8,734.5L916.0,736.2L915.8,736.2L914.2,737.8L914.0,737.8L912.8,739.0L912.5,739.0L911.5,740.0L911.2,740.0L910.7,740.6L910.5,740.5L910.0,740.7L902.7,744.5L898.2,746.8L893.9,748.8L889.3,750.8L884.9,752.5L880.8,754.0L876.3,755.5L871.4,757.0L866.7,758.2L862.6,759.2L857.8,760.2L853.6,761.0L845.0,762.2L836.2,763.0L827.8,763.2L819.0,763.1L810.5,762.4L806.0,761.9L801.2,761.3L793.0,759.8L784.6,757.8L780.2,756.5L776.2,755.2L771.8,753.8L767.8,752.2L760.0,749.0L752.3,745.3L745.1,741.2L738.0,736.8L734.4,734.2L731.0,731.8L727.5,729.0L724.2,726.2L720.8,723.2L717.5,720.2L714.5,717.2L711.5,714.0L708.5,710.6L705.5,707.0L702.0,702.6L697.2,696.2L697.0,695.9L696.8,695.9L696.8,695.8L696.5,695.5L696.5,695.2L696.2,695.0L696.2,694.5L696.0,694.2L696.0,694.0L695.8,693.8L695.8,693.5L695.5,693.2L695.5,693.0L695.2,692.8L695.2,692.2L695.0,692.0L695.0,691.8L694.8,691.5L694.8,691.2L694.5,691.0L694.5,690.5L694.2,690.2L694.2,690.0L694.0,689.8L694.0,689.2L693.8,689.0L693.8,688.8L693.5,688.5L693.5,688.0L693.2,687.8L693.2,687.5L693.0,687.2L693.0,686.8L692.8,686.5L692.8,686.0L692.5,685.8L692.5,685.2L692.2,685.0L692.2,684.8L692.0,684.5L692.0,684.0L691.8,683.8L691.8,683.2L691.5,683.0Z" fill="#ffdf00" stroke="#ffdf00" stroke-width="0.5"/>
<path d="M696.8,696.0L696.8,695.9L697.0,695.9L697.2,696.2L703.5,704.5L708.0,710.0L712.5,715.1L717.0,719.7L722.2,724.5L727.5,729.0L733.0,733.2L738.7,737.2L745.1,741.2L751.4,744.8L757.9,748.0L764.6,751.0L771.8,753.8L778.5,756.0L785.6,758.0L793.0,759.8L800.5,761.1L808.0,762.2L815.5,762.9L823.0,763.2L830.5,763.2L838.2,762.8L845.8,762.1L853.2,761.1L860.3,759.7L867.7,758.0L874.8,756.0L881.5,753.8L887.4,751.5L893.9,748.8L900.7,745.5L910.0,740.7L910.5,740.5L910.7,740.6L910.2,741.0L910.0,741.0L909.2,741.8L909.0,741.8L908.2,742.5L908.0,742.5L907.2,743.2L907.0,743.2L906.5,743.8L906.2,743.8L905.5,744.5L905.2,744.5L904.8,745.0L904.5,745.0L904.0,745.5L903.8,745.5L903.2,746.0L903.0,746.0L902.5,746.5L902.2,746.5L901.8,747.0L901.5,747.0L901.0,747.5L900.8,747.5L900.2,748.0L900.0,748.0L899.5,748.5L899.2,748.5L899.0,748.8L898.8,748.8L898.3,749.2L897.8,749.2L892.2,751.8L887.5,753.8L879.7,756.8L872.0,759.2L863.7,761.5L855.5,763.2L847.9,764.5L839.8,765.4L832.0,765.9L824.2,766.0L816.2,765.8L808.8,765.2L801.4,764.2L793.0,762.8L785.4,761.0L777.5,758.8L770.1,756.2L763.2,753.5L756.0,750.2L749.2,746.8L742.8,743.0L736.2,738.7L729.8,734.0L723.3,728.8L717.2,723.1L711.5,717.2L708.0,713.3L704.2,708.9L703.5,708.2L703.5,708.0L703.0,707.5L703.0,707.2L702.8,707.0L702.8,706.8L702.2,706.2L702.2,706.0L702.0,705.8L702.0,705.5L701.5,705.0L701.5,704.8L701.2,704.5L701.2,704.2L701.0,704.0L701.0,703.8L700.5,703.2L700.5,703.0L700.2,702.8L700.2,702.5L700.0,702.2L700.0,702.0L699.8,701.8L699.8,701.5L699.2,701.0L699.2,700.8L699.0,700.5L699.0,700.2L698.8,700.0L698.8,699.8L698.5,699.5L698.5,699.2L698.2,699.0L698.2,698.8L698.0,698.5L698.0,698.2L697.8,698.0L697.8,697.8L697.5,697.5L697.5,697.2L697.2,697.0L697.2,696.8L697.0,696.5L697.0,696.2L696.8,696.0Z" fill="#ff9f00" stroke="#ff9f00" stroke-width="0.5"/>
<path d="M704.0,708.8L703.8,708.6L704.2,708.9L709.2,714.8L713.8,719.6L718.1,724.0L722.8,728.2L727.5,732.2L732.7,736.2L738.1,740.0L743.6,743.5L749.2,746.7L755.5,750.0L761.4,752.8L767.5,755.2L773.7,757.5L780.0,759.5L786.4,761.2L793.0,762.8L799.8,764.0L806.2,764.9L812.5,765.5L819.5,765.9L826.2,766.0L832.8,765.9L839.0,765.5L846.0,764.8L852.7,763.8L859.2,762.5L865.7,761.0L872.0,759.2L878.2,757.2L883.7,755.2L890.5,752.5L897.8,749.2L898.3,749.2L898.0,749.2L897.5,749.8L897.2,749.8L897.0,750.0L896.8,750.0L896.2,750.5L896.0,750.5L895.8,750.8L895.5,750.8L895.2,751.0L895.0,751.0L894.5,751.5L894.2,751.5L894.0,751.8L893.8,751.8L893.5,752.0L893.2,752.0L892.8,752.5L892.5,752.5L892.2,752.8L892.0,752.8L891.8,753.0L891.5,753.0L891.2,753.2L891.0,753.2L890.8,753.5L890.5,753.5L890.0,754.0L889.8,754.0L889.5,754.2L889.2,754.2L889.0,754.5L888.8,754.5L888.5,754.8L888.2,754.8L888.0,755.0L887.8,755.0L887.5,755.2L887.2,755.2L887.0,755.5L886.8,755.5L886.5,755.8L886.2,755.8L886.0,756.0L885.8,756.0L885.5,756.2L885.2,756.2L885.0,756.5L884.5,756.5L884.2,756.8L883.8,756.7L883.5,756.9L879.0,758.5L873.7,760.2L865.9,762.5L857.3,764.5L848.8,766.0L841.5,766.9L834.5,767.5L827.5,767.7L820.8,767.7L813.8,767.4L806.7,766.8L799.4,765.8L792.6,764.5L786.0,763.0L778.7,761.0L772.5,759.0L765.8,756.5L759.4,753.8L753.1,750.8L747.1,747.5L741.2,744.0L737.8,741.8L734.1,739.2L730.7,736.8L727.2,734.0L721.1,728.8L717.0,725.0L713.0,721.0L712.7,721.0L712.2,720.5L712.2,720.2L711.2,719.2L711.2,719.0L710.2,718.0L710.2,717.8L709.5,717.0L709.5,716.8L708.8,716.0L708.8,715.8L708.2,715.2L708.2,715.0L707.5,714.2L707.5,714.0L707.0,713.5L707.0,713.2L706.2,712.5L706.2,712.2L705.8,711.8L705.8,711.5L705.2,711.0L705.2,710.8L704.8,710.2L704.8,710.0L704.2,709.5L704.2,709.2L704.0,709.0L704.0,708.8Z" fill="#ff7000" stroke="#ff7000" stroke-width="0.5"/>
<path d="M712.8,721.0L713.0,721.0L717.8,725.8L722.7,730.2L726.6,733.5L730.7,736.8L735.2,740.0L739.7,743.0L744.5,746.0L749.3,748.8L754.6,751.5L759.9,754.0L765.2,756.2L770.4,758.2L775.5,760.0L781.3,761.8L787.0,763.2L792.6,764.5L797.9,765.5L804.5,766.5L809.8,767.1L815.5,767.5L821.2,767.7L827.0,767.8L832.8,767.6L838.2,767.2L843.0,766.8L848.8,766.0L854.7,765.0L860.7,763.8L865.9,762.5L871.2,761.0L877.5,759.0L883.5,756.9L883.8,756.7L884.2,756.8L884.0,756.8L883.8,757.0L883.5,757.0L883.2,757.2L883.0,757.2L882.8,757.5L882.5,757.5L882.2,757.8L881.8,757.8L881.5,758.0L881.2,758.0L881.0,758.2L880.8,758.2L880.5,758.5L880.2,758.5L880.0,758.8L879.5,758.8L879.2,759.0L879.0,759.0L878.8,759.2L878.5,759.2L878.2,759.5L877.8,759.5L877.5,759.8L877.2,759.8L877.0,760.0L876.5,760.0L876.2,760.2L876.0,760.2L875.8,760.5L875.2,760.5L875.0,760.8L874.5,760.8L874.2,761.0L874.0,761.0L873.8,761.2L873.2,761.2L873.0,761.5L872.5,761.5L872.2,761.8L872.0,761.8L871.8,762.0L871.2,762.0L871.0,762.2L870.5,762.2L870.2,762.5L869.8,762.5L869.5,762.8L869.0,762.8L868.8,763.0L868.2,763.0L868.0,763.2L868.0,763.1L867.2,763.2L860.0,765.0L852.5,766.5L846.0,767.5L839.3,768.2L833.2,768.7L827.5,768.9L821.5,768.9L815.5,768.7L809.6,768.2L803.0,767.5L796.6,766.5L791.4,765.5L785.0,764.0L779.5,762.5L773.9,760.8L768.3,758.8L762.7,756.5L757.6,754.2L752.0,751.5L747.0,748.8L741.5,745.5L736.5,742.2L731.3,738.5L724.5,733.2L724.2,733.1L724.2,733.2L716.8,725.8L716.8,725.5L715.0,723.8L715.0,723.5L713.5,722.0L713.5,721.8L712.8,721.0Z" fill="#ff3000" stroke="#ff3000" stroke-width="0.5"/>
<path d="M724.2,733.2L724.2,733.2L724.2,733.1L724.5,733.2L729.9,737.5L734.0,740.5L740.3,744.8L744.4,747.2L748.3,749.5L752.0,751.5L756.0,753.5L760.4,755.5L764.5,757.2L769.0,759.0L773.2,760.5L777.8,762.0L782.1,763.2L787.0,764.5L791.4,765.5L796.6,766.5L801.2,767.3L809.8,768.3L814.8,768.6L819.5,768.9L824.5,768.9L829.2,768.9L834.0,768.7L839.0,768.3L847.8,767.2L856.4,765.8L862.1,764.5L867.2,763.2L868.0,763.1L868.0,763.2L867.5,763.2L867.2,763.5L866.8,763.5L866.5,763.8L866.0,763.8L865.8,764.0L865.0,764.0L864.8,764.2L864.2,764.2L864.0,764.5L863.5,764.5L863.2,764.8L862.5,764.8L862.2,765.0L861.8,765.0L861.5,765.2L860.8,765.2L860.5,765.5L859.8,765.5L859.5,765.8L858.8,765.8L858.5,766.0L857.8,766.0L857.5,766.2L856.8,766.2L856.5,766.5L855.8,766.5L855.5,766.8L854.8,766.8L854.5,767.0L853.5,767.0L853.2,767.2L852.2,767.2L852.0,767.5L851.0,767.5L850.8,767.8L849.8,767.8L849.5,768.0L848.5,768.0L848.4,768.1L848.4,768.0L848.2,768.0L847.8,768.2L846.8,768.2L844.0,768.6L838.2,769.2L831.2,769.6L826.5,769.8L821.5,769.7L816.2,769.6L811.3,769.2L806.2,768.8L802.2,768.2L797.3,767.5L792.0,766.5L787.5,765.5L782.5,764.2L777.3,762.8L772.7,761.2L767.9,759.5L763.5,757.8L758.9,755.8L754.6,753.8L747.9,750.2L739.8,745.5L739.5,745.2L739.4,745.4L739.0,745.0L738.8,745.0L738.2,744.5L738.0,744.5L737.2,743.8L737.0,743.8L736.2,743.0L736.0,743.0L735.5,742.5L735.2,742.5L734.2,741.5L734.0,741.5L733.2,740.8L733.0,740.8L732.0,739.8L731.8,739.8L730.8,738.8L730.5,738.8L729.5,737.8L729.2,737.8L727.8,736.2L727.5,736.2L725.5,734.2L725.2,734.2L724.2,733.2Z" fill="#ef0000" stroke="#ef0000" stroke-width="0.5"/>
<path d="M739.5,745.2L745.7,749.0L751.7,752.2L757.8,755.2L764.1,758.0L770.6,760.5L777.3,762.8L784.4,764.8L790.8,766.2L797.3,767.5L804.1,768.5L811.3,769.2L819.2,769.7L826.5,769.8L833.5,769.5L840.0,769.0L846.0,768.3L846.8,768.2L847.8,768.2L848.2,768.0L848.4,768.0L848.4,768.1L848.2,768.2L847.0,768.2L846.8,768.5L845.5,768.5L845.2,768.8L844.0,768.8L843.8,769.0L842.2,769.0L842.0,769.2L840.2,769.2L840.0,769.5L838.0,769.5L837.8,769.8L835.5,769.8L835.2,770.0L832.5,770.0L832.2,770.2L828.0,770.2L827.8,770.5L820.1,770.5L818.5,770.4L817.5,770.2L814.0,770.1L810.5,769.8L805.2,769.3L798.0,768.3L791.3,767.0L784.8,765.5L778.5,763.8L770.2,761.1L767.0,759.9L766.8,759.7L766.2,759.6L766.1,759.5L765.8,759.4L765.4,759.2L765.0,759.2L764.8,759.0L764.5,759.0L764.1,758.8L763.5,758.8L763.2,758.5L763.0,758.5L762.8,758.2L762.5,758.2L762.2,758.0L762.0,758.0L761.8,757.8L761.2,757.8L761.0,757.5L760.8,757.5L760.5,757.2L760.2,757.2L760.0,757.0L759.8,757.0L759.5,756.8L759.2,756.8L759.0,756.5L758.8,756.5L758.5,756.2L758.0,756.2L757.8,756.0L757.5,756.0L757.2,755.8L757.0,755.8L756.8,755.5L756.5,755.5L756.2,755.2L756.0,755.2L755.8,755.0L755.5,755.0L755.2,754.8L755.0,754.8L754.8,754.5L754.5,754.5L754.2,754.2L754.0,754.2L753.5,753.8L753.2,753.8L753.0,753.5L752.8,753.5L752.5,753.2L752.2,753.2L752.0,753.0L751.8,753.0L751.5,752.8L751.2,752.8L751.0,752.5L750.8,752.5L750.2,752.0L750.0,752.0L749.8,751.8L749.5,751.8L749.2,751.5L749.0,751.5L748.5,751.0L748.2,751.0L748.0,750.8L747.8,750.8L747.2,750.2L747.0,750.2L746.8,750.0L746.5,750.0L746.0,749.5L745.8,749.5L745.5,749.2L745.2,749.2L744.8,748.8L744.5,748.8L744.2,748.5L744.0,748.5L743.5,748.0L743.2,748.0L742.8,747.5L742.5,747.5L742.0,747.0L741.8,747.0L741.2,746.5L741.0,746.5L740.5,746.0L740.2,746.0L739.8,745.5L739.5,745.5L739.4,745.4L739.5,745.2Z" fill="#af0000" stroke="#af0000" stroke-width="0.5"/>
<path d="M763.7,758.8L764.1,758.8L764.5,759.0L764.8,759.0L765.0,759.2L765.4,759.2L765.8,759.4L766.1,759.5L766.2,759.6L766.8,759.7L767.0,759.9L770.2,761.1L777.8,763.6L784.8,765.5L791.3,767.0L798.0,768.3L805.2,769.3L810.5,769.8L814.0,770.1L817.5,770.2L818.5,770.4L820.1,770.5L815.8,770.5L815.5,770.2L811.2,770.2L811.0,770.0L808.2,770.0L808.0,769.8L805.8,769.8L805.5,769.5L803.5,769.5L803.2,769.2L801.5,769.2L801.2,769.0L799.8,769.0L799.5,768.8L798.2,768.8L798.0,768.5L796.8,768.5L796.5,768.2L795.2,768.2L795.0,768.0L794.0,768.0L793.8,767.8L792.8,767.8L792.5,767.5L791.5,767.5L791.2,767.2L790.2,767.2L790.0,767.0L789.2,767.0L789.0,766.8L788.0,766.8L787.8,766.5L787.0,766.5L786.8,766.2L786.0,766.2L785.8,766.0L785.0,766.0L784.8,765.8L784.0,765.8L783.8,765.5L783.0,765.5L782.8,765.2L782.2,765.2L782.0,765.0L781.2,765.0L781.0,764.8L780.5,764.8L780.2,764.5L779.5,764.5L779.2,764.2L778.8,764.2L778.5,764.0L778.0,764.0L777.8,763.8L777.0,763.8L776.8,763.5L776.2,763.5L776.0,763.2L775.5,763.2L775.2,763.0L774.8,763.0L774.5,762.8L774.0,762.8L773.8,762.5L773.2,762.5L773.0,762.2L772.5,762.2L772.2,762.0L772.0,762.0L771.8,761.8L771.2,761.8L771.0,761.5L770.5,761.5L770.2,761.2L769.8,761.2L769.5,761.0L769.2,761.0L769.0,760.8L768.5,760.8L768.2,760.5L768.0,760.5L767.8,760.2L767.2,760.2L767.0,760.0L766.5,760.0L766.2,759.8L766.0,759.8L765.8,759.5L765.5,759.5L765.2,759.2L764.8,759.2L764.5,759.0L764.2,759.0L764.0,758.8L763.7,758.8Z" fill="#800000" stroke="#800000" stroke-width="0.5"/>
<path d="M734.1,552.9L734.2,553.0L734.7,552.8L741.5,548.2L748.2,544.2L754.5,541.0L761.0,538.0L767.9,535.2L775.3,532.8L782.4,530.8L790.0,529.0L797.0,527.8L804.8,526.8L812.8,526.1L821.0,526.0L828.8,526.2L836.0,526.8L843.8,527.8L852.1,529.2L859.4,531.0L867.1,533.2L874.3,535.8L881.6,538.8L888.5,542.0L895.0,545.5L901.5,549.5L907.7,553.8L913.3,558.0L919.1,563.0L924.2,567.9L929.2,573.3L934.0,579.0L938.2,584.7L941.8,590.1L945.1,595.8L945.2,596.1L945.4,596.2L945.5,596.6L945.7,596.8L945.8,597.0L946.0,597.3M717.8,567.7L718.0,567.8L722.3,563.8L726.0,560.5L732.0,555.8L735.4,553.2L738.7,551.0L742.7,548.5L746.5,546.2L750.2,544.2L754.1,542.2L758.4,540.2L762.5,538.5L766.3,537.0L770.4,535.5L775.0,534.0L779.2,532.8L784.1,531.5L788.5,530.5L796.8,529.0L801.5,528.4L806.0,527.9L811.0,527.5L815.2,527.3L819.8,527.2L824.2,527.3L829.0,527.5L833.2,527.8L837.7,528.2L842.5,528.9L846.3,529.5L851.5,530.5L856.0,531.5L859.9,532.5L864.3,533.8L869.0,535.2L873.2,536.8L877.7,538.5L881.8,540.2L886.1,542.2L890.0,544.2L893.7,546.2L898.0,548.8L901.6,551.0L905.3,553.5L908.8,556.0L912.0,558.5L915.7,561.5L918.8,564.2L922.0,567.2L925.0,570.2L928.0,573.4L930.8,576.6L933.5,580.0L936.0,583.2L938.5,586.8L940.8,590.2L943.0,593.8L945.0,597.4L947.0,601.2L948.8,604.9L950.2,608.4L953.5,617.0M705.9,582.6L706.0,582.7L706.2,582.5L706.4,582.2L709.8,578.1L713.5,573.8L716.5,570.6L719.5,567.7L723.2,564.2L726.7,561.2L730.5,558.2L734.3,555.5L738.7,552.5L742.7,550.0L747.1,547.5L751.3,545.2L755.9,543.0L760.4,541.0L764.7,539.2L769.5,537.5L774.1,536.0L779.2,534.5L784.2,533.2L788.8,532.2L794.2,531.2L799.2,530.5L804.2,529.9L809.8,529.5L815.0,529.2L820.2,529.2L825.2,529.3L830.5,529.6L835.8,530.1L841.3,530.8L846.0,531.5L851.2,532.5L856.7,533.8L861.4,535.0L866.3,536.5L870.8,538.0L875.4,539.8L880.3,541.8L885.2,544.0L889.7,546.2L894.2,548.8L898.5,551.2L902.7,554.0L906.7,556.8L910.7,559.8L914.7,563.0L918.5,566.2L921.8,569.3L925.2,572.8L928.5,576.4L931.8,580.2L934.8,584.0L937.5,587.8L940.2,591.9L942.8,596.0L945.0,600.0L947.0,603.9L949.0,608.3L950.8,612.5L952.5,617.3L953.8,621.2L955.0,625.8L956.0,630.1L957.0,635.1M697.2,597.6L697.5,597.5L697.6,597.2L697.8,597.1L700.5,592.6L703.8,587.7L706.5,584.0L709.5,580.3L713.0,576.3L716.5,572.7L720.1,569.2L724.0,565.7L728.3,562.2L732.7,559.0L737.0,556.0L741.8,553.0L746.7,550.2L751.5,547.8L756.2,545.5L761.5,543.2L766.8,541.2L772.0,539.5L777.0,538.0L782.9,536.5L788.7,535.2L794.0,534.3L799.8,533.5L805.0,533.0L810.5,532.6L816.2,532.5L822.0,532.5L827.8,532.7L833.5,533.2L838.8,533.8L844.8,534.7L850.2,535.8L855.6,537.0L861.3,538.5L866.9,540.2L871.9,542.0L877.0,544.0L882.2,546.2L887.4,548.8L892.1,551.2L896.9,554.0L901.7,557.0L906.0,560.0L910.4,563.2L914.7,566.8L918.7,570.2L922.5,573.9L926.2,577.8L930.0,582.0L933.2,586.0L936.2,590.0L939.2,594.4L942.0,598.8L944.5,603.3L946.8,607.7L949.0,612.7L950.8,617.1L952.5,622.2L953.8,626.4L955.0,631.5L955.8,635.2L956.5,639.8L957.2,645.8L957.5,652.0L957.8,652.0M691.2,612.5L691.5,612.4L691.6,612.0L691.8,611.8L694.0,606.9L696.8,601.7L699.2,597.5L702.0,593.3L705.0,589.2L708.5,584.9L712.0,580.9L715.8,577.1L719.8,573.4L724.0,569.7L728.5,566.2L733.1,563.0L737.8,560.0L742.9,557.0L748.2,554.2L753.5,551.8L758.8,549.5L764.1,547.5L769.5,545.7L775.5,544.0L781.6,542.5L787.8,541.3L794.0,540.3L799.8,539.6L806.0,539.1L812.0,538.8L818.0,538.8L824.2,539.0L830.5,539.5L836.8,540.2L842.8,541.1L848.7,542.2L855.0,543.7L860.6,545.2L866.2,547.0L871.9,549.0L877.5,551.2L883.1,553.8L888.6,556.5L893.6,559.2L899.0,562.5L904.0,565.8L908.8,569.2L913.2,572.8L917.6,576.5L921.8,580.4L925.8,584.5L929.5,588.7L933.0,593.0L936.5,597.8L939.5,602.3L942.2,606.8L945.0,611.9L947.2,616.7L949.2,621.5L951.0,626.3L952.5,631.2L953.8,636.2L954.8,641.2L955.5,646.3L956.0,651.7L956.2,656.8L956.1,661.8L955.8,667.8M687.5,627.2L687.8,627.2L687.8,626.8L689.5,621.9L691.8,616.4L693.8,612.3L696.0,608.3L698.8,604.0L701.5,600.2L704.8,596.1L708.2,592.3L712.0,588.6L716.0,585.0L720.2,581.6L724.8,578.3L729.5,575.3L734.2,572.5L739.4,569.8L744.8,567.2L750.2,565.0L755.8,563.0L761.8,561.0L767.5,559.5L773.8,558.0L779.8,556.9L786.0,555.9L792.5,555.2L799.0,554.8L805.2,554.5L811.8,554.5L818.2,554.8L824.8,555.3L831.2,556.0L837.8,557.0L844.3,558.2L850.8,559.7L857.0,561.4L863.1,563.2L869.2,565.4L875.2,567.8L881.0,570.3L886.7,573.0L892.2,576.0L897.5,579.0L902.8,582.4L907.8,585.9L912.5,589.5L917.0,593.2L921.5,597.4L925.5,601.3L929.5,605.7L933.0,610.0L936.2,614.3L939.2,618.8L942.0,623.3L944.5,628.0L946.8,632.8L948.8,637.9L950.2,642.4L951.5,647.1L952.5,652.0L953.2,657.1L953.6,662.2L953.7,666.8L953.5,671.6L953.0,676.3L952.0,682.1L952.0,682.4L952.1,682.4M686.0,641.6L687.0,637.8L688.0,634.7L689.2,631.6L690.8,628.6L692.5,625.9L694.2,623.6L696.2,621.3L698.5,619.3L701.0,617.3L704.0,615.3L707.2,613.5L710.5,612.0L714.2,610.5L718.2,609.2L722.5,608.0L727.0,606.9L732.0,605.9L737.5,605.1L743.0,604.4L749.0,603.9L755.2,603.6L761.5,603.4L768.0,603.4L774.8,603.5L781.5,603.8L788.5,604.3L795.5,605.0L802.5,605.8L809.8,606.7L816.8,607.8L823.8,609.1L831.0,610.5L838.0,612.0L845.1,613.8L852.0,615.6L859.0,617.5L865.8,619.6L872.2,621.8L878.8,624.1L885.0,626.5L891.0,629.0L896.8,631.5L902.5,634.3L907.8,637.0L913.0,639.9L917.8,642.7L922.2,645.6L926.2,648.4L930.0,651.3L933.2,654.1L936.2,657.0L938.8,659.6L941.0,662.4L943.0,665.2L944.8,668.1L946.0,670.7L947.0,673.4L947.8,676.2L948.3,679.0L948.5,682.2L948.5,685.2L948.2,688.0L947.5,692.0L946.5,696.0L946.7,696.1M686.0,655.7L686.2,655.7L686.8,653.6L687.2,652.3L687.8,651.4L688.5,650.6L689.2,650.2L690.2,650.0L691.2,650.0L692.5,650.4L694.2,651.3L696.5,652.8L711.5,663.7L716.8,667.2L722.2,670.7L728.0,674.2L734.0,677.5L740.2,680.7L746.5,683.8L753.5,686.8L760.8,689.8L768.2,692.6L775.8,695.2L783.8,697.7L791.5,699.9L799.5,701.9L807.5,703.7L815.5,705.3L823.5,706.6L831.8,707.7L839.8,708.6L847.8,709.3L856.0,709.7L864.0,709.9L871.8,709.9L879.0,709.7L886.0,709.3L893.0,708.6L899.8,707.9L906.2,706.9L912.9,705.8L931.8,701.9L934.5,701.5L936.5,701.4L937.8,701.5L938.8,701.9L939.5,702.4L940.0,703.2L940.2,704.2L940.3,705.2L940.0,706.8L939.6,708.2L939.6,708.5L939.8,708.7M688.0,669.4L688.5,669.0L688.8,668.9L689.2,669.0L690.0,669.4L691.0,670.5L692.8,672.8L699.5,681.9L703.8,687.3L709.0,693.3L714.8,699.2L719.9,704.0L725.2,708.5L730.8,712.8L736.9,717.0L743.6,721.2L750.8,725.2L758.2,729.0L765.7,732.2L773.5,735.2L781.0,737.8L789.0,740.0L797.5,742.0L805.8,743.6L814.2,744.7L822.5,745.5L831.0,745.9L839.5,745.9L847.8,745.6L856.2,744.8L864.2,743.7L871.5,742.3L878.5,740.7L885.7,738.8L892.8,736.5L900.6,733.5L908.1,730.2L914.8,727.0L925.2,721.4L928.2,719.9L929.5,719.5L930.5,719.3L931.0,719.5L931.3,720.2M691.5,682.9L691.8,682.8L692.0,683.0L693.2,684.5L700.2,694.4L704.8,700.4L709.0,705.5L713.2,710.1L718.5,715.4L724.0,720.3L729.8,725.0L735.9,729.5L742.4,733.8L749.2,737.8L756.5,741.5L763.6,744.8L771.2,747.8L779.2,750.5L787.2,752.7L794.8,754.5L803.0,756.0L810.8,757.0L819.0,757.7L827.2,758.0L835.2,757.9L843.2,757.4L851.5,756.5L859.3,755.2L866.6,753.8L874.3,751.8L881.6,749.5L889.2,746.8L895.2,744.2L901.7,741.2L908.5,737.8L919.2,731.8L921.0,731.0L921.5,730.8L921.6,730.9M696.8,695.9L697.0,695.9L697.2,696.2L703.2,704.2L707.8,709.7L712.2,714.8L716.8,719.4L722.0,724.4L727.5,729.0L733.0,733.2L738.7,737.2L745.1,741.2L751.4,744.8L757.9,748.0L764.6,751.0L771.8,753.8L778.5,756.0L785.6,758.0L793.0,759.8L800.5,761.1L808.0,762.2L815.5,762.9L823.0,763.2L830.5,763.2L838.2,762.8L845.8,762.1L853.2,761.1L860.3,759.7L867.7,758.0L874.8,756.0L881.5,753.8L887.4,751.5L893.9,748.8L900.7,745.5L910.0,740.7L910.5,740.5L910.7,740.6M703.8,708.6L704.2,708.9L709.2,714.8L713.8,719.6L718.0,723.9L722.5,728.0L727.2,732.0L732.4,736.0L737.7,739.8L742.8,743.0L748.3,746.2L754.0,749.2L759.7,752.0L766.2,754.8L772.9,757.2L779.1,759.2L785.4,761.0L791.8,762.5L798.3,763.8L805.1,764.8L812.2,765.5L818.8,765.9L825.5,766.0L832.2,765.9L838.8,765.5L846.0,764.8L852.7,763.8L859.2,762.5L865.7,761.0L872.0,759.2L878.2,757.2L883.7,755.2L890.5,752.5L897.8,749.2L898.3,749.2M712.7,721.0L713.0,721.0L717.8,725.8L722.7,730.2L726.6,733.5L730.7,736.8L735.2,740.0L739.7,743.0L744.5,746.0L749.3,748.8L754.6,751.5L759.9,754.0L765.2,756.2L770.4,758.2L775.5,760.0L781.3,761.8L787.0,763.2L792.6,764.5L797.9,765.5L804.5,766.5L809.8,767.1L815.5,767.5L821.2,767.7L827.0,767.8L832.8,767.6L838.2,767.2L843.0,766.8L848.8,766.0L854.7,765.0L860.7,763.8L865.9,762.5L871.2,761.0L877.5,759.0L883.5,756.9L883.8,756.7L884.2,756.8M724.2,733.2L724.2,733.1L724.5,733.2L729.3,737.0L733.3,740.0L736.5,742.2L740.3,744.8L744.4,747.2L748.3,749.5L752.0,751.5L756.0,753.5L760.4,755.5L764.5,757.2L769.0,759.0L773.2,760.5L777.8,762.0L782.1,763.2L787.0,764.5L791.4,765.5L796.6,766.5L801.2,767.3L809.8,768.3L814.8,768.6L819.5,768.9L824.5,768.9L829.2,768.9L834.0,768.7L839.0,768.3L847.8,767.2L856.4,765.8L862.1,764.5L867.2,763.2L868.0,763.1L868.0,763.2M739.4,745.4L739.5,745.2L739.8,745.5L746.6,749.5L753.1,753.0L759.4,756.0L765.3,758.5L772.0,761.0L778.2,763.0L785.4,765.0L792.0,766.5L798.8,767.8L806.2,768.8L813.2,769.4L820.0,769.7L826.5,769.8L833.5,769.5L840.0,769.0L846.0,768.3L846.8,768.2L847.8,768.2L848.2,768.0L848.4,768.0L848.4,768.1M763.7,758.8L764.1,758.8L764.5,759.0L764.8,759.0L765.0,759.2L765.4,759.2L765.8,759.4L766.1,759.5L766.2,759.6L766.8,759.7L767.0,759.9L770.2,761.1L777.8,763.6L784.8,765.5L791.3,767.0L798.0,768.3L805.2,769.3L810.5,769.8L814.0,770.1L817.5,770.2L818.5,770.4L820.1,770.5" fill="none" stroke="#000" stroke-width="1" stroke-linejoin="round" shape-rendering="crispEdges"/>
<ellipse cx="820.65" cy="648.66" rx="137.86" ry="125.58" fill="none" stroke="#000" stroke-width="1.3"/>
</g>
<g shape-rendering="crispEdges">
<rect x="156.5" y="523.5" width="275" height="250" fill="none" stroke="#000" stroke-width="1"/>
<rect x="201" y="771" width="1" height="3" fill="#000"/>
<rect x="201" y="523" width="1" height="3" fill="#000"/>
<rect x="263" y="771" width="1" height="3" fill="#000"/>
<rect x="263" y="523" width="1" height="3" fill="#000"/>
<rect x="326" y="771" width="1" height="3" fill="#000"/>
<rect x="326" y="523" width="1" height="3" fill="#000"/>
<rect x="388" y="771" width="1" height="3" fill="#000"/>
<rect x="388" y="523" width="1" height="3" fill="#000"/>
<rect x="156" y="544" width="3" height="1" fill="#000"/>
<rect x="429" y="544" width="3" height="1" fill="#000"/>
<rect x="156" y="606" width="3" height="1" fill="#000"/>
<rect x="429" y="606" width="3" height="1" fill="#000"/>
<rect x="156" y="669" width="3" height="1" fill="#000"/>
<rect x="429" y="669" width="3" height="1" fill="#000"/>
<rect x="156" y="731" width="3" height="1" fill="#000"/>
<rect x="429" y="731" width="3" height="1" fill="#000"/>
</g>
<text x="200.8" y="804.4" text-anchor="middle" font-family="'Liberation Sans', sans-serif" font-size="20.83" stroke="#000" stroke-width="0.45" letter-spacing="-0.6">200</text>
<text x="262.8" y="804.4" text-anchor="middle" font-family="'Liberation Sans', sans-serif" font-size="20.83" stroke="#000" stroke-width="0.45" letter-spacing="-0.6">300</text>
<text x="325.8" y="804.4" text-anchor="middle" font-family="'Liberation Sans', sans-serif" font-size="20.83" stroke="#000" stroke-width="0.45" letter-spacing="-0.6">400</text>
<text x="387.8" y="804.4" text-anchor="middle" font-family="'Liberation Sans', sans-serif" font-size="20.83" stroke="#000" stroke-width="0.45" letter-spacing="-0.6">500</text>
<text x="148.8" y="554.1" text-anchor="end" font-family="'Liberation Sans', sans-serif" font-size="20.83" stroke="#000" stroke-width="0.45" letter-spacing="-0.6">400</text>
<text x="148.8" y="616.1" text-anchor="end" font-family="'Liberation Sans', sans-serif" font-size="20.83" stroke="#000" stroke-width="0.45" letter-spacing="-0.6">300</text>
<text x="148.8" y="679.1" text-anchor="end" font-family="'Liberation Sans', sans-serif" font-size="20.83" stroke="#000" stroke-width="0.45" letter-spacing="-0.6">200</text>
<text x="148.8" y="741.1" text-anchor="end" font-family="'Liberation Sans', sans-serif" font-size="20.83" stroke="#000" stroke-width="0.45" letter-spacing="-0.6">100</text>
<text x="292.6" y="505.8" text-anchor="middle" font-family="'Liberation Sans', sans-serif" font-size="20.83" stroke="#000" stroke-width="0.45" letter-spacing="0.1">Longitude 130 km</text>
<g shape-rendering="crispEdges">
<rect x="463" y="772.06" width="43" height="4.44" fill="#00008f"/>
<rect x="463" y="768.12" width="43" height="4.44" fill="#00009f"/>
<rect x="463" y="764.19" width="43" height="4.44" fill="#0000af"/>
<rect x="463" y="760.25" width="43" height="4.44" fill="#0000bf"/>
<rect x="463" y="756.31" width="43" height="4.44" fill="#0000cf"/>
<rect x="463" y="752.38" width="43" height="4.44" fill="#0000df"/>
<rect x="463" y="748.44" width="43" height="4.44" fill="#0000ef"/>
<rect x="463" y="744.50" width="43" height="4.44" fill="#0000ff"/>
<rect x="463" y="740.56" width="43" height="4.44" fill="#0010ff"/>
<rect x="463" y="736.62" width="43" height="4.44" fill="#0020ff"/>
<rect x="463" y="732.69" width="43" height="4.44" fill="#0030ff"/>
<rect x="463" y="728.75" width="43" height="4.44" fill="#0040ff"/>
<rect x="463" y="724.81" width="43" height="4.44" fill="#0050ff"/>
<rect x="463" y="720.88" width="43" height="4.44" fill="#0060ff"/>
<rect x="463" y="716.94" width="43" height="4.44" fill="#0070ff"/>
<rect x="463" y="713.00" width="43" height="4.44" fill="#0080ff"/>
<rect x="463" y="709.06" width="43" height="4.44" fill="#008fff"/>
<rect x="463" y="705.12" width="43" height="4.44" fill="#009fff"/>
<rect x="463" y="701.19" width="43" height="4.44" fill="#00afff"/>
<rect x="463" y="697.25" width="43" height="4.44" fill="#00bfff"/>
<rect x="463" y="693.31" width="43" height="4.44" fill="#00cfff"/>
<rect x="463" y="689.38" width="43" height="4.44" fill="#00dfff"/>
<rect x="463" y="685.44" width="43" height="4.44" fill="#00efff"/>
<rect x="463" y="681.50" width="43" height="4.44" fill="#00ffff"/>
<rect x="463" y="677.56" width="43" height="4.44" fill="#10ffef"/>
<rect x="463" y="673.62" width="43" height="4.44" fill="#20ffdf"/>
<rect x="463" y="669.69" width="43" height="4.44" fill="#30ffcf"/>
<rect x="463" y="665.75" width="43" height="4.44" fill="#40ffbf"/>
<rect x="463" y="661.81" width="43" height="4.44" fill="#50ffaf"/>
<rect x="463" y="657.88" width="43" height="4.44" fill="#60ff9f"/>
<rect x="463" y="653.94" width="43" height="4.44" fill="#70ff8f"/>
<rect x="463" y="650.00" width="43" height="4.44" fill="#80ff80"/>
<rect x="463" y="646.06" width="43" height="4.44" fill="#8fff70"/>
<rect x="463" y="642.12" width="43" height="4.44" fill="#9fff60"/>
<rect x="463" y="638.19" width="43" height="4.44" fill="#afff50"/>
<rect x="463" y="634.25" width="43" height="4.44" fill="#bfff40"/>
<rect x="463" y="630.31" width="43" height="4.44" fill="#cfff30"/>
<rect x="463" y="626.38" width="43" height="4.44" fill="#dfff20"/>
<rect x="463" y="622.44" width="43" height="4.44" fill="#efff10"/>
<rect x="463" y="618.50" width="43" height="4.44" fill="#ffff00"/>
<rect x="463" y="614.56" width="43" height="4.44" fill="#ffef00"/>
<rect x="463" y="610.62" width="43" height="4.44" fill="#ffdf00"/>
<rect x="463" y="606.69" width="43" height="4.44" fill="#ffcf00"/>
<rect x="463" y="602.75" width="43" height="4.44" fill="#ffbf00"/>
<rect x="463" y="598.81" width="43" height="4.44" fill="#ffaf00"/>
<rect x="463" y="594.88" width="43" height="4.44" fill="#ff9f00"/>
<rect x="463" y="590.94" width="43" height="4.44" fill="#ff8f00"/>
<rect x="463" y="587.00" width="43" height="4.44" fill="#ff8000"/>
<rect x="463" y="583.06" width="43" height="4.44" fill="#ff7000"/>
<rect x="463" y="579.12" width="43" height="4.44" fill="#ff6000"/>
<rect x="463" y="575.19" width="43" height="4.44" fill="#ff5000"/>
<rect x="463" y="571.25" width="43" height="4.44" fill="#ff4000"/>
<rect x="463" y="567.31" width="43" height="4.44" fill="#ff3000"/>
<rect x="463" y="563.38" width="43" height="4.44" fill="#ff2000"/>
<rect x="463" y="559.44" width="43" height="4.44" fill="#ff1000"/>
<rect x="463" y="555.50" width="43" height="4.44" fill="#ff0000"/>
<rect x="463" y="551.56" width="43" height="4.44" fill="#ef0000"/>
<rect x="463" y="547.62" width="43" height="4.44" fill="#df0000"/>
<rect x="463" y="543.69" width="43" height="4.44" fill="#cf0000"/>
<rect x="463" y="539.75" width="43" height="4.44" fill="#bf0000"/>
<rect x="463" y="535.81" width="43" height="4.44" fill="#af0000"/>
<rect x="463" y="531.88" width="43" height="4.44" fill="#9f0000"/>
<rect x="463" y="527.94" width="43" height="4.44" fill="#8f0000"/>
<rect x="463" y="524.00" width="43" height="4.44" fill="#800000"/>
<rect x="463.5" y="524.5" width="42" height="251" fill="none" stroke="#000" stroke-width="1"/>
<rect x="463" y="563" width="2" height="1" fill="#000"/>
<rect x="503" y="563" width="3" height="1" fill="#000"/>
<rect x="463" y="612" width="2" height="1" fill="#000"/>
<rect x="503" y="612" width="3" height="1" fill="#000"/>
<rect x="463" y="661" width="2" height="1" fill="#000"/>
<rect x="503" y="661" width="3" height="1" fill="#000"/>
<rect x="463" y="711" width="2" height="1" fill="#000"/>
<rect x="503" y="711" width="3" height="1" fill="#000"/>
<rect x="463" y="760" width="2" height="1" fill="#000"/>
<rect x="503" y="760" width="3" height="1" fill="#000"/>
</g>
<text x="510.7" y="573.1" font-family="'Liberation Sans', sans-serif" font-size="20.83" stroke="#000" stroke-width="0.45" letter-spacing="-0.6">0</text>
<text x="510.7" y="622.1" font-family="'Liberation Sans', sans-serif" font-size="20.83" stroke="#000" stroke-width="0.45" letter-spacing="-0.6">-10</text>
<text x="510.7" y="671.1" font-family="'Liberation Sans', sans-serif" font-size="20.83" stroke="#000" stroke-width="0.45" letter-spacing="-0.6">-20</text>
<text x="510.7" y="721.1" font-family="'Liberation Sans', sans-serif" font-size="20.83" stroke="#000" stroke-width="0.45" letter-spacing="-0.6">-30</text>
<text x="510.7" y="770.1" font-family="'Liberation Sans', sans-serif" font-size="20.83" stroke="#000" stroke-width="0.45" letter-spacing="-0.6">-40</text>
<g shape-rendering="crispEdges">
<rect x="684.5" y="523.5" width="275" height="250" fill="none" stroke="#000" stroke-width="1"/>
<rect x="729" y="771" width="1" height="3" fill="#000"/>
<rect x="729" y="523" width="1" height="3" fill="#000"/>
<rect x="791" y="771" width="1" height="3" fill="#000"/>
<rect x="791" y="523" width="1" height="3" fill="#000"/>
<rect x="854" y="771" width="1" height="3" fill="#000"/>
<rect x="854" y="523" width="1" height="3" fill="#000"/>
<rect x="916" y="771" width="1" height="3" fill="#000"/>
<rect x="916" y="523" width="1" height="3" fill="#000"/>
<rect x="684" y="544" width="3" height="1" fill="#000"/>
<rect x="957" y="544" width="3" height="1" fill="#000"/>
<rect x="684" y="606" width="3" height="1" fill="#000"/>
<rect x="957" y="606" width="3" height="1" fill="#000"/>
<rect x="684" y="669" width="3" height="1" fill="#000"/>
<rect x="957" y="669" width="3" height="1" fill="#000"/>
<rect x="684" y="731" width="3" height="1" fill="#000"/>
<rect x="957" y="731" width="3" height="1" fill="#000"/>
</g>
<text x="728.8" y="804.4" text-anchor="middle" font-family="'Liberation Sans', sans-serif" font-size="20.83" stroke="#000" stroke-width="0.45" letter-spacing="-0.6">200</text>
<text x="790.8" y="804.4" text-anchor="middle" font-family="'Liberation Sans', sans-serif" font-size="20.83" stroke="#000" stroke-width="0.45" letter-spacing="-0.6">300</text>
<text x="853.8" y="804.4" text-anchor="middle" font-family="'Liberation Sans', sans-serif" font-size="20.83" stroke="#000" stroke-width="0.45" letter-spacing="-0.6">400</text>
<text x="915.8" y="804.4" text-anchor="middle" font-family="'Liberation Sans', sans-serif" font-size="20.83" stroke="#000" stroke-width="0.45" letter-spacing="-0.6">500</text>
<text x="676.8" y="554.1" text-anchor="end" font-family="'Liberation Sans', sans-serif" font-size="20.83" stroke="#000" stroke-width="0.45" letter-spacing="-0.6">400</text>
<text x="676.8" y="616.1" text-anchor="end" font-family="'Liberation Sans', sans-serif" font-size="20.83" stroke="#000" stroke-width="0.45" letter-spacing="-0.6">300</text>
<text x="676.8" y="679.1" text-anchor="end" font-family="'Liberation Sans', sans-serif" font-size="20.83" stroke="#000" stroke-width="0.45" letter-spacing="-0.6">200</text>
<text x="676.8" y="741.1" text-anchor="end" font-family="'Liberation Sans', sans-serif" font-size="20.83" stroke="#000" stroke-width="0.45" letter-spacing="-0.6">100</text>
<text x="820.6" y="505.8" text-anchor="middle" font-family="'Liberation Sans', sans-serif" font-size="20.83" stroke="#000" stroke-width="0.45" letter-spacing="0.1">Latitude 130 km</text>
<g shape-rendering="crispEdges">
<rect x="991" y="772.06" width="43" height="4.44" fill="#00008f"/>
<rect x="991" y="768.12" width="43" height="4.44" fill="#00009f"/>
<rect x="991" y="764.19" width="43" height="4.44" fill="#0000af"/>
<rect x="991" y="760.25" width="43" height="4.44" fill="#0000bf"/>
<rect x="991" y="756.31" width="43" height="4.44" fill="#0000cf"/>
<rect x="991" y="752.38" width="43" height="4.44" fill="#0000df"/>
<rect x="991" y="748.44" width="43" height="4.44" fill="#0000ef"/>
<rect x="991" y="744.50" width="43" height="4.44" fill="#0000ff"/>
<rect x="991" y="740.56" width="43" height="4.44" fill="#0010ff"/>
<rect x="991" y="736.62" width="43" height="4.44" fill="#0020ff"/>
<rect x="991" y="732.69" width="43" height="4.44" fill="#0030ff"/>
<rect x="991" y="728.75" width="43" height="4.44" fill="#0040ff"/>
<rect x="991" y="724.81" width="43" height="4.44" fill="#0050ff"/>
<rect x="991" y="720.88" width="43" height="4.44" fill="#0060ff"/>
<rect x="991" y="716.94" width="43" height="4.44" fill="#0070ff"/>
<rect x="991" y="713.00" width="43" height="4.44" fill="#0080ff"/>
<rect x="991" y="709.06" width="43" height="4.44" fill="#008fff"/>
<rect x="991" y="705.12" width="43" height="4.44" fill="#009fff"/>
<rect x="991" y="701.19" width="43" height="4.44" fill="#00afff"/>
<rect x="991" y="697.25" width="43" height="4.44" fill="#00bfff"/>
<rect x="991" y="693.31" width="43" height="4.44" fill="#00cfff"/>
<rect x="991" y="689.38" width="43" height="4.44" fill="#00dfff"/>
<rect x="991" y="685.44" width="43" height="4.44" fill="#00efff"/>
<rect x="991" y="681.50" width="43" height="4.44" fill="#00ffff"/>
<rect x="991" y="677.56" width="43" height="4.44" fill="#10ffef"/>
<rect x="991" y="673.62" width="43" height="4.44" fill="#20ffdf"/>
<rect x="991" y="669.69" width="43" height="4.44" fill="#30ffcf"/>
<rect x="991" y="665.75" width="43" height="4.44" fill="#40ffbf"/>
<rect x="991" y="661.81" width="43" height="4.44" fill="#50ffaf"/>
<rect x="991" y="657.88" width="43" height="4.44" fill="#60ff9f"/>
<rect x="991" y="653.94" width="43" height="4.44" fill="#70ff8f"/>
<rect x="991" y="650.00" width="43" height="4.44" fill="#80ff80"/>
<rect x="991" y="646.06" width="43" height="4.44" fill="#8fff70"/>
<rect x="991" y="642.12" width="43" height="4.44" fill="#9fff60"/>
<rect x="991" y="638.19" width="43" height="4.44" fill="#afff50"/>
<rect x="991" y="634.25" width="43" height="4.44" fill="#bfff40"/>
<rect x="991" y="630.31" width="43" height="4.44" fill="#cfff30"/>
<rect x="991" y="626.38" width="43" height="4.44" fill="#dfff20"/>
<rect x="991" y="622.44" width="43" height="4.44" fill="#efff10"/>
<rect x="991" y="618.50" width="43" height="4.44" fill="#ffff00"/>
<rect x="991" y="614.56" width="43" height="4.44" fill="#ffef00"/>
<rect x="991" y="610.62" width="43" height="4.44" fill="#ffdf00"/>
<rect x="991" y="606.69" width="43" height="4.44" fill="#ffcf00"/>
<rect x="991" y="602.75" width="43" height="4.44" fill="#ffbf00"/>
<rect x="991" y="598.81" width="43" height="4.44" fill="#ffaf00"/>
<rect x="991" y="594.88" width="43" height="4.44" fill="#ff9f00"/>
<rect x="991" y="590.94" width="43" height="4.44" fill="#ff8f00"/>
<rect x="991" y="587.00" width="43" height="4.44" fill="#ff8000"/>
<rect x="991" y="583.06" width="43" height="4.44" fill="#ff7000"/>
<rect x="991" y="579.12" width="43" height="4.44" fill="#ff6000"/>
<rect x="991" y="575.19" width="43" height="4.44" fill="#ff5000"/>
<rect x="991" y="571.25" width="43" height="4.44" fill="#ff4000"/>
<rect x="991" y="567.31" width="43" height="4.44" fill="#ff3000"/>
<rect x="991" y="563.38" width="43" height="4.44" fill="#ff2000"/>
<rect x="991" y="559.44" width="43" height="4.44" fill="#ff1000"/>
<rect x="991" y="555.50" width="43" height="4.44" fill="#ff0000"/>
<rect x="991" y="551.56" width="43" height="4.44" fill="#ef0000"/>
<rect x="991" y="547.62" width="43" height="4.44" fill="#df0000"/>
<rect x="991" y="543.69" width="43" height="4.44" fill="#cf0000"/>
<rect x="991" y="539.75" width="43" height="4.44" fill="#bf0000"/>
<rect x="991" y="535.81" width="43" height="4.44" fill="#af0000"/>
<rect x="991" y="531.88" width="43" height="4.44" fill="#9f0000"/>
<rect x="991" y="527.94" width="43" height="4.44" fill="#8f0000"/>
<rect x="991" y="524.00" width="43" height="4.44" fill="#800000"/>
<rect x="991.5" y="524.5" width="42" height="251" fill="none" stroke="#000" stroke-width="1"/>
<rect x="991" y="546" width="2" height="1" fill="#000"/>
<rect x="1031" y="546" width="3" height="1" fill="#000"/>
<rect x="991" y="607" width="2" height="1" fill="#000"/>
<rect x="1031" y="607" width="3" height="1" fill="#000"/>
<rect x="991" y="667" width="2" height="1" fill="#000"/>
<rect x="1031" y="667" width="3" height="1" fill="#000"/>
<rect x="991" y="727" width="2" height="1" fill="#000"/>
<rect x="1031" y="727" width="3" height="1" fill="#000"/>
</g>
<text x="1038.7" y="556.1" font-family="'Liberation Sans', sans-serif" font-size="20.83" stroke="#000" stroke-width="0.45" letter-spacing="-0.6">75</text>
<text x="1038.7" y="617.1" font-family="'Liberation Sans', sans-serif" font-size="20.83" stroke="#000" stroke-width="0.45" letter-spacing="-0.6">70</text>
<text x="1038.7" y="677.1" font-family="'Liberation Sans', sans-serif" font-size="20.83" stroke="#000" stroke-width="0.45" letter-spacing="-0.6">65</text>
<text x="1038.7" y="737.1" font-family="'Liberation Sans', sans-serif" font-size="20.83" stroke="#000" stroke-width="0.45" letter-spacing="-0.6">60</text>
</svg>
</body></html>
